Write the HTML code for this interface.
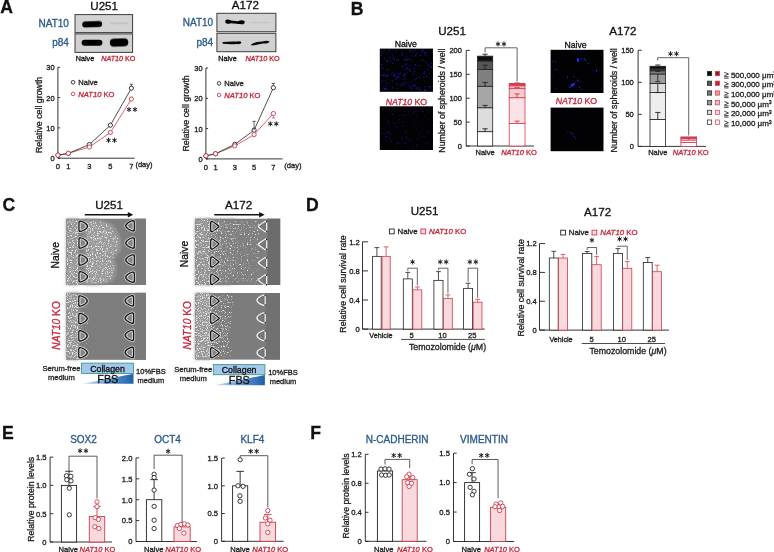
<!DOCTYPE html>
<html><head><meta charset="utf-8"><style>
html,body{margin:0;padding:0;background:#fff;width:774px;height:552px;overflow:hidden}
svg{display:block;will-change:transform;filter:blur(0.3px)}
text{font-family:'Liberation Sans',sans-serif}
</style></head><body>
<svg width="774" height="552" viewBox="0 0 774 552">
<defs>
<filter id="blur1" x="-50%" y="-50%" width="200%" height="200%"><feGaussianBlur stdDeviation="0.9"/></filter>
<filter id="blur06" x="-50%" y="-50%" width="200%" height="200%"><feGaussianBlur stdDeviation="0.6"/></filter>
<filter id="blur05" x="-50%" y="-50%" width="200%" height="200%"><feGaussianBlur stdDeviation="0.5"/></filter>
<filter id="blur15" x="-20%" y="-20%" width="140%" height="140%"><feGaussianBlur stdDeviation="1.5"/></filter>
<filter id="spkA" x="0" y="0" width="100%" height="100%"><feTurbulence type="fractalNoise" baseFrequency="0.85" numOctaves="2" seed="4" result="n"/><feColorMatrix in="n" type="matrix" values="0 0 0 0 1  0 0 0 0 1  0 0 0 0 1  0 0 0 7 -3.4" result="w"/><feComposite in="w" in2="SourceAlpha" operator="in"/></filter>
<filter id="spkB" x="0" y="0" width="100%" height="100%"><feTurbulence type="fractalNoise" baseFrequency="0.7" numOctaves="2" seed="9" result="n"/><feColorMatrix in="n" type="matrix" values="0 0 0 0 1  0 0 0 0 1  0 0 0 0 1  0 0 0 7 -3.5" result="w"/><feComposite in="w" in2="SourceAlpha" operator="in"/></filter>
<filter id="spkC" x="0" y="0" width="100%" height="100%"><feTurbulence type="fractalNoise" baseFrequency="0.8" numOctaves="2" seed="12" result="n"/><feColorMatrix in="n" type="matrix" values="0 0 0 0 1  0 0 0 0 1  0 0 0 0 1  0 0 0 7 -3.9" result="w"/><feComposite in="w" in2="SourceAlpha" operator="in"/></filter>
<filter id="spkD" x="0" y="0" width="100%" height="100%"><feTurbulence type="fractalNoise" baseFrequency="0.75" numOctaves="2" seed="21" result="n"/><feColorMatrix in="n" type="matrix" values="0 0 0 0 1  0 0 0 0 1  0 0 0 0 1  0 0 0 7 -4.0" result="w"/><feComposite in="w" in2="SourceAlpha" operator="in"/></filter>
<filter id="dnU1" x="0" y="0" width="1" height="1" color-interpolation-filters="sRGB"><feTurbulence type="fractalNoise" baseFrequency="0.8" numOctaves="2" seed="4" result="n"/><feComposite in="n" in2="SourceGraphic" operator="arithmetic" k1="0" k2="5" k3="5" k4="-7.500" result="c"/><feColorMatrix in="c" type="matrix" values="0 0 0 0 0.92 0 0 0 0 0.92 0 0 0 0 0.92 0 0 0 1 0"/></filter><filter id="dnU2" x="0" y="0" width="1" height="1" color-interpolation-filters="sRGB"><feTurbulence type="fractalNoise" baseFrequency="0.8" numOctaves="2" seed="7" result="n"/><feComposite in="n" in2="SourceGraphic" operator="arithmetic" k1="0" k2="5" k3="5" k4="-7.500" result="c"/><feColorMatrix in="c" type="matrix" values="0 0 0 0 0.92 0 0 0 0 0.92 0 0 0 0 0.92 0 0 0 1 0"/></filter><filter id="dnA1" x="0" y="0" width="1" height="1" color-interpolation-filters="sRGB"><feTurbulence type="fractalNoise" baseFrequency="0.7" numOctaves="2" seed="11" result="n"/><feComposite in="n" in2="SourceGraphic" operator="arithmetic" k1="0" k2="5" k3="5" k4="-7.500" result="c"/><feColorMatrix in="c" type="matrix" values="0 0 0 0 0.92 0 0 0 0 0.92 0 0 0 0 0.92 0 0 0 1 0"/></filter><filter id="dnA2" x="0" y="0" width="1" height="1" color-interpolation-filters="sRGB"><feTurbulence type="fractalNoise" baseFrequency="0.8" numOctaves="2" seed="15" result="n"/><feComposite in="n" in2="SourceGraphic" operator="arithmetic" k1="0" k2="5" k3="5" k4="-7.500" result="c"/><feColorMatrix in="c" type="matrix" values="0 0 0 0 0.92 0 0 0 0 0.92 0 0 0 0 0.92 0 0 0 1 0"/></filter>
<linearGradient id="gFan" x1="0" y1="0" x2="1" y2="0"><stop offset="0" stop-color="#fff" stop-opacity="1"/><stop offset="0.6" stop-color="#fff" stop-opacity="0.99"/><stop offset="1" stop-color="#fff" stop-opacity="0.93"/></linearGradient>
<linearGradient id="gA1" x1="0" y1="0" x2="1" y2="0"><stop offset="0" stop-color="#fff" stop-opacity="0.97"/><stop offset="0.4" stop-color="#fff" stop-opacity="0.92"/><stop offset="1" stop-color="#fff" stop-opacity="0.88"/></linearGradient>
<linearGradient id="gA2" x1="0" y1="0" x2="1" y2="0"><stop offset="0" stop-color="#fff" stop-opacity="0.99"/><stop offset="0.6" stop-color="#fff" stop-opacity="0.95"/><stop offset="1" stop-color="#fff" stop-opacity="0.88"/></linearGradient>
<filter id="blur3" x="-50%" y="-50%" width="200%" height="200%"><feGaussianBlur stdDeviation="3"/></filter>
<linearGradient id="fbsgrad" x1="0" y1="0" x2="1" y2="0"><stop offset="0" stop-color="#cfe3f5"/><stop offset="0.55" stop-color="#5e95cf"/><stop offset="1" stop-color="#1f5fa8"/></linearGradient>
</defs>
<text x="0.2" y="12.7" font-size="17.6" text-anchor="start" fill="#111" stroke="#111" stroke-width="0.32" font-weight="bold">A</text>
<text x="350.8" y="15.0" font-size="17.6" text-anchor="start" fill="#111" stroke="#111" stroke-width="0.32" font-weight="bold">B</text>
<text x="2.6" y="211.2" font-size="17.6" text-anchor="start" fill="#111" stroke="#111" stroke-width="0.32" font-weight="bold">C</text>
<text x="306.0" y="211.0" font-size="17.6" text-anchor="start" fill="#111" stroke="#111" stroke-width="0.32" font-weight="bold">D</text>
<text x="1.9" y="439.0" font-size="17.6" text-anchor="start" fill="#111" stroke="#111" stroke-width="0.32" font-weight="bold">E</text>
<text x="310.3" y="439.0" font-size="17.6" text-anchor="start" fill="#111" stroke="#111" stroke-width="0.32" font-weight="bold">F</text>
<text x="90.3" y="9.8" font-size="11.6" text-anchor="start" fill="#111" stroke="#111" stroke-width="0.32" font-weight="normal">U251</text>
<rect x="75.00" y="14.60" width="57.60" height="18.00" fill="#d3d3d3" stroke="#3c3c3c" stroke-width="1.0"/>
<rect x="75.00" y="33.90" width="57.60" height="18.50" fill="#d1d1d1" stroke="#3c3c3c" stroke-width="1.0"/>
<text x="68.9" y="26.8" font-size="10" text-anchor="end" fill="#2b5a8c" stroke="#2b5a8c" stroke-width="0.32" font-weight="normal">NAT10</text>
<text x="68.9" y="46.3" font-size="10" text-anchor="end" fill="#2b5a8c" stroke="#2b5a8c" stroke-width="0.32" font-weight="normal">p84</text>
<rect x="82.2" y="21.25" width="19.90" height="5.9" rx="2.95" fill="#050505" opacity="1.0" filter="url(#blur06)" transform="rotate(-2 92.15 24.2)"/>
<rect x="110" y="22.30" width="18.00" height="2.0" rx="1.00" fill="#050505" opacity="0.06" filter="url(#blur06)" transform="rotate(0 119.00 23.3)"/>
<rect x="81.6" y="39.85" width="20.80" height="5.9" rx="2.95" fill="#050505" opacity="1.0" filter="url(#blur06)" transform="rotate(0 92.00 42.8)"/>
<rect x="109.8" y="38.45" width="18.50" height="8.1" rx="4.05" fill="#050505" opacity="1.0" filter="url(#blur06)" transform="rotate(-2 119.05 42.5)"/>
<text x="75.8" y="61.3" font-size="7.2" text-anchor="start" fill="#111" stroke="#111" stroke-width="0.32" font-weight="normal">Naive</text>
<text x="101.2" y="61.3" font-size="7.2" text-anchor="start" fill="#c4283c" stroke="#c4283c" stroke-width="0.32"><tspan font-style="italic">NAT10</tspan> KO</text>
<text x="231.8" y="8.6" font-size="11.6" text-anchor="start" fill="#111" stroke="#111" stroke-width="0.32" font-weight="normal">A172</text>
<rect x="216.90" y="13.30" width="59.00" height="18.40" fill="#d3d3d3" stroke="#3c3c3c" stroke-width="1.0"/>
<rect x="216.90" y="33.30" width="59.00" height="18.40" fill="#d1d1d1" stroke="#3c3c3c" stroke-width="1.0"/>
<text x="213.2" y="26.0" font-size="10" text-anchor="end" fill="#2b5a8c" stroke="#2b5a8c" stroke-width="0.32" font-weight="normal">NAT10</text>
<text x="213.2" y="45.6" font-size="10" text-anchor="end" fill="#2b5a8c" stroke="#2b5a8c" stroke-width="0.32" font-weight="normal">p84</text>
<path d="M225.5,20.0 Q228,19.0 231,20.4 L238,21.3 Q242,19.2 244.8,21.5 Q245,24.5 241.5,24.3 L231,23.2 Q227,24.6 225.3,22.7 Z" fill="#050505" opacity="1.0" filter="url(#blur06)"/>
<rect x="251" y="21.70" width="18.00" height="1.6" rx="0.80" fill="#050505" opacity="0.05" filter="url(#blur06)" transform="rotate(0 260.00 22.5)"/>
<path d="M222.6,42.0 Q230,41.2 237,41.6 Q241,40.8 241.4,42.6 Q241,44.6 237,44.0 Q230,44.6 222.6,43.8 Z" fill="#050505" opacity="0.95" filter="url(#blur06)"/>
<path d="M251.2,44.2 Q256,41.6 262,41.6 Q268,40.0 269.6,41.8 Q269,43.8 263,43.6 Q256,45.4 251.5,45.6 Z" fill="#050505" opacity="0.95" filter="url(#blur06)"/>
<text x="218.3" y="60.8" font-size="7.2" text-anchor="start" fill="#111" stroke="#111" stroke-width="0.32" font-weight="normal">Naive</text>
<text x="245.4" y="60.8" font-size="7.2" text-anchor="start" fill="#c4283c" stroke="#c4283c" stroke-width="0.32"><tspan font-style="italic">NAT10</tspan> KO</text>
<line x1="57.90" y1="67.30" x2="57.90" y2="158.20" stroke="#1e1e1e" stroke-width="0.9"/>
<line x1="57.90" y1="158.20" x2="134.70" y2="158.20" stroke="#1e1e1e" stroke-width="0.9"/>
<line x1="57.90" y1="158.20" x2="60.10" y2="158.20" stroke="#1e1e1e" stroke-width="0.9"/>
<text x="54.699999999999996" y="161.2" font-size="7.5" text-anchor="end" fill="#1e1e1e" stroke="#1e1e1e" stroke-width="0.32" font-weight="normal">0</text>
<line x1="57.90" y1="127.90" x2="60.10" y2="127.90" stroke="#1e1e1e" stroke-width="0.9"/>
<text x="54.699999999999996" y="130.89999999999998" font-size="7.5" text-anchor="end" fill="#1e1e1e" stroke="#1e1e1e" stroke-width="0.32" font-weight="normal">10</text>
<line x1="57.90" y1="97.60" x2="60.10" y2="97.60" stroke="#1e1e1e" stroke-width="0.9"/>
<text x="54.699999999999996" y="100.6" font-size="7.5" text-anchor="end" fill="#1e1e1e" stroke="#1e1e1e" stroke-width="0.32" font-weight="normal">20</text>
<line x1="57.90" y1="67.30" x2="60.10" y2="67.30" stroke="#1e1e1e" stroke-width="0.9"/>
<text x="54.699999999999996" y="70.3" font-size="7.5" text-anchor="end" fill="#1e1e1e" stroke="#1e1e1e" stroke-width="0.32" font-weight="normal">30</text>
<text x="57.9" y="168.79999999999998" font-size="7.5" text-anchor="middle" fill="#1e1e1e" stroke="#1e1e1e" stroke-width="0.32" font-weight="normal">0</text>
<text x="68.4" y="168.79999999999998" font-size="7.5" text-anchor="middle" fill="#1e1e1e" stroke="#1e1e1e" stroke-width="0.32" font-weight="normal">1</text>
<text x="89.4" y="168.79999999999998" font-size="7.5" text-anchor="middle" fill="#1e1e1e" stroke="#1e1e1e" stroke-width="0.32" font-weight="normal">3</text>
<text x="110.4" y="168.79999999999998" font-size="7.5" text-anchor="middle" fill="#1e1e1e" stroke="#1e1e1e" stroke-width="0.32" font-weight="normal">5</text>
<text x="131.4" y="168.79999999999998" font-size="7.5" text-anchor="middle" fill="#1e1e1e" stroke="#1e1e1e" stroke-width="0.32" font-weight="normal">7</text>
<text x="135.4" y="167.0" font-size="7.5" text-anchor="start" fill="#1e1e1e" stroke="#1e1e1e" stroke-width="0.32" font-weight="normal">(day)</text>
<text x="42.3" y="114.9" font-size="8.8" text-anchor="middle" fill="#1e1e1e" stroke="#1e1e1e" stroke-width="0.32" font-weight="normal" transform="rotate(-90 42.3 114.9)">Relative cell growth</text>
<line x1="131.40" y1="88.21" x2="131.40" y2="84.27" stroke="#1e1e1e" stroke-width="0.7"/>
<line x1="129.80" y1="84.27" x2="133.00" y2="84.27" stroke="#1e1e1e" stroke-width="0.7"/>
<line x1="131.40" y1="99.11" x2="131.40" y2="97.30" stroke="#cf3d4e" stroke-width="0.7"/>
<line x1="129.80" y1="97.30" x2="133.00" y2="97.30" stroke="#cf3d4e" stroke-width="0.7"/>
<polyline points="57.90,155.17 68.40,153.35 89.40,146.99 110.40,132.44 131.40,99.11" fill="none" stroke="#cf3d4e" stroke-width="0.8" stroke-linejoin="round"/>
<polyline points="57.90,155.17 68.40,153.35 89.40,144.56 110.40,125.17 131.40,88.21" fill="none" stroke="#222" stroke-width="0.8" stroke-linejoin="round"/>
<circle cx="57.90" cy="155.17" r="2.1" fill="white" stroke="#222" stroke-width="0.9"/>
<circle cx="68.40" cy="153.35" r="2.1" fill="white" stroke="#222" stroke-width="0.9"/>
<circle cx="89.40" cy="144.56" r="2.1" fill="white" stroke="#222" stroke-width="0.9"/>
<circle cx="110.40" cy="125.17" r="2.1" fill="white" stroke="#222" stroke-width="0.9"/>
<circle cx="131.40" cy="88.21" r="2.1" fill="white" stroke="#222" stroke-width="0.9"/>
<circle cx="57.90" cy="155.17" r="2.1" fill="white" stroke="#cf3d4e" stroke-width="0.9"/>
<circle cx="68.40" cy="153.35" r="2.1" fill="white" stroke="#cf3d4e" stroke-width="0.9"/>
<circle cx="89.40" cy="146.99" r="2.1" fill="white" stroke="#cf3d4e" stroke-width="0.9"/>
<circle cx="110.40" cy="132.44" r="2.1" fill="white" stroke="#cf3d4e" stroke-width="0.9"/>
<circle cx="131.40" cy="99.11" r="2.1" fill="white" stroke="#cf3d4e" stroke-width="0.9"/>
<path d="M129.03,107.40 L129.03,111.60 M127.21,108.45 L130.84,110.55 M130.84,108.45 L127.21,110.55 " stroke="#1e1e1e" stroke-width="1.0" stroke-linecap="round" fill="none"/>
<path d="M134.97,107.40 L134.97,111.60 M133.16,108.45 L136.79,110.55 M136.79,108.45 L133.16,110.55 " stroke="#1e1e1e" stroke-width="1.0" stroke-linecap="round" fill="none"/>
<path d="M108.53,138.20 L108.53,142.40 M106.71,139.25 L110.34,141.35 M110.34,139.25 L106.71,141.35 " stroke="#1e1e1e" stroke-width="1.0" stroke-linecap="round" fill="none"/>
<path d="M114.47,138.20 L114.47,142.40 M112.66,139.25 L116.29,141.35 M116.29,139.25 L112.66,141.35 " stroke="#1e1e1e" stroke-width="1.0" stroke-linecap="round" fill="none"/>
<circle cx="73.10" cy="82.30" r="1.8" fill="white" stroke="#222" stroke-width="0.9"/>
<text x="78.3" y="85.2" font-size="7.6" text-anchor="start" fill="#1e1e1e" stroke="#1e1e1e" stroke-width="0.32" font-weight="normal">Naive</text>
<circle cx="73.10" cy="93.90" r="1.8" fill="white" stroke="#cf3d4e" stroke-width="0.9"/>
<text x="78.3" y="96.8" font-size="7.6" text-anchor="start" fill="#c4283c" stroke="#c4283c" stroke-width="0.32"><tspan font-style="italic">NAT10</tspan> KO</text>
<line x1="205.90" y1="68.00" x2="205.90" y2="158.90" stroke="#1e1e1e" stroke-width="0.9"/>
<line x1="205.90" y1="158.90" x2="282.60" y2="158.90" stroke="#1e1e1e" stroke-width="0.9"/>
<line x1="205.90" y1="158.90" x2="208.10" y2="158.90" stroke="#1e1e1e" stroke-width="0.9"/>
<text x="202.70000000000002" y="161.9" font-size="7.5" text-anchor="end" fill="#1e1e1e" stroke="#1e1e1e" stroke-width="0.32" font-weight="normal">0</text>
<line x1="205.90" y1="128.60" x2="208.10" y2="128.60" stroke="#1e1e1e" stroke-width="0.9"/>
<text x="202.70000000000002" y="131.60000000000002" font-size="7.5" text-anchor="end" fill="#1e1e1e" stroke="#1e1e1e" stroke-width="0.32" font-weight="normal">10</text>
<line x1="205.90" y1="98.30" x2="208.10" y2="98.30" stroke="#1e1e1e" stroke-width="0.9"/>
<text x="202.70000000000002" y="101.30000000000001" font-size="7.5" text-anchor="end" fill="#1e1e1e" stroke="#1e1e1e" stroke-width="0.32" font-weight="normal">20</text>
<line x1="205.90" y1="68.00" x2="208.10" y2="68.00" stroke="#1e1e1e" stroke-width="0.9"/>
<text x="202.70000000000002" y="71.00000000000001" font-size="7.5" text-anchor="end" fill="#1e1e1e" stroke="#1e1e1e" stroke-width="0.32" font-weight="normal">30</text>
<text x="205.9" y="169.5" font-size="7.5" text-anchor="middle" fill="#1e1e1e" stroke="#1e1e1e" stroke-width="0.32" font-weight="normal">0</text>
<text x="215.54000000000002" y="169.5" font-size="7.5" text-anchor="middle" fill="#1e1e1e" stroke="#1e1e1e" stroke-width="0.32" font-weight="normal">1</text>
<text x="234.82" y="169.5" font-size="7.5" text-anchor="middle" fill="#1e1e1e" stroke="#1e1e1e" stroke-width="0.32" font-weight="normal">3</text>
<text x="254.10000000000002" y="169.5" font-size="7.5" text-anchor="middle" fill="#1e1e1e" stroke="#1e1e1e" stroke-width="0.32" font-weight="normal">5</text>
<text x="273.38" y="169.5" font-size="7.5" text-anchor="middle" fill="#1e1e1e" stroke="#1e1e1e" stroke-width="0.32" font-weight="normal">7</text>
<text x="284.3" y="167.70000000000002" font-size="7.5" text-anchor="start" fill="#1e1e1e" stroke="#1e1e1e" stroke-width="0.32" font-weight="normal">(day)</text>
<text x="188.8" y="113.4" font-size="8.8" text-anchor="middle" fill="#1e1e1e" stroke="#1e1e1e" stroke-width="0.32" font-weight="normal" transform="rotate(-90 188.8 113.4)">Relative cell growth</text>
<line x1="254.10" y1="130.12" x2="254.10" y2="129.21" stroke="#1e1e1e" stroke-width="0.7"/>
<line x1="252.50" y1="129.21" x2="255.70" y2="129.21" stroke="#1e1e1e" stroke-width="0.7"/>
<line x1="273.38" y1="87.70" x2="273.38" y2="83.45" stroke="#1e1e1e" stroke-width="0.7"/>
<line x1="271.78" y1="83.45" x2="274.98" y2="83.45" stroke="#1e1e1e" stroke-width="0.7"/>
<line x1="273.38" y1="113.45" x2="273.38" y2="118.00" stroke="#cf3d4e" stroke-width="0.7"/>
<line x1="271.78" y1="118.00" x2="274.98" y2="118.00" stroke="#cf3d4e" stroke-width="0.7"/>
<polyline points="205.90,155.87 215.54,153.75 234.82,145.87 254.10,134.66 273.38,113.45" fill="none" stroke="#cf3d4e" stroke-width="0.8" stroke-linejoin="round"/>
<polyline points="205.90,155.87 215.54,153.75 234.82,144.36 254.10,130.12 273.38,87.70" fill="none" stroke="#222" stroke-width="0.8" stroke-linejoin="round"/>
<circle cx="205.90" cy="155.87" r="2.1" fill="white" stroke="#222" stroke-width="0.9"/>
<circle cx="215.54" cy="153.75" r="2.1" fill="white" stroke="#222" stroke-width="0.9"/>
<circle cx="234.82" cy="144.36" r="2.1" fill="white" stroke="#222" stroke-width="0.9"/>
<circle cx="254.10" cy="130.12" r="2.1" fill="white" stroke="#222" stroke-width="0.9"/>
<circle cx="273.38" cy="87.70" r="2.1" fill="white" stroke="#222" stroke-width="0.9"/>
<circle cx="205.90" cy="155.87" r="2.1" fill="white" stroke="#cf3d4e" stroke-width="0.9"/>
<circle cx="215.54" cy="153.75" r="2.1" fill="white" stroke="#cf3d4e" stroke-width="0.9"/>
<circle cx="234.82" cy="145.87" r="2.1" fill="white" stroke="#cf3d4e" stroke-width="0.9"/>
<circle cx="254.10" cy="134.66" r="2.1" fill="white" stroke="#cf3d4e" stroke-width="0.9"/>
<circle cx="273.38" cy="113.45" r="2.1" fill="white" stroke="#cf3d4e" stroke-width="0.9"/>
<path d="M270.32,121.70 L270.32,125.90 M268.51,122.75 L272.14,124.85 M272.14,122.75 L268.51,124.85 " stroke="#1e1e1e" stroke-width="1.0" stroke-linecap="round" fill="none"/>
<path d="M276.28,121.70 L276.28,125.90 M274.46,122.75 L278.09,124.85 M278.09,122.75 L274.46,124.85 " stroke="#1e1e1e" stroke-width="1.0" stroke-linecap="round" fill="none"/>
<circle cx="219.10" cy="83.40" r="1.8" fill="white" stroke="#222" stroke-width="0.9"/>
<text x="224.29999999999998" y="86.30000000000001" font-size="7.6" text-anchor="start" fill="#1e1e1e" stroke="#1e1e1e" stroke-width="0.32" font-weight="normal">Naive</text>
<circle cx="219.10" cy="95.00" r="1.8" fill="white" stroke="#cf3d4e" stroke-width="0.9"/>
<text x="224.29999999999998" y="97.9" font-size="7.6" text-anchor="start" fill="#c4283c" stroke="#c4283c" stroke-width="0.32"><tspan font-style="italic">NAT10</tspan> KO</text>
<line x1="254.10" y1="130.12" x2="254.10" y2="121.33" stroke="#1e1e1e" stroke-width="0.7"/>
<line x1="252.50" y1="121.33" x2="255.70" y2="121.33" stroke="#1e1e1e" stroke-width="0.7"/>
<text x="438.2" y="34.9" font-size="11.6" text-anchor="start" fill="#111" stroke="#111" stroke-width="0.32" font-weight="normal">U251</text>
<text x="405.8" y="47.2" font-size="8.7" text-anchor="middle" fill="#111" stroke="#111" stroke-width="0.32" font-weight="normal">Naive</text>
<text x="406.4" y="104.8" font-size="8.7" text-anchor="middle" fill="#c4283c" stroke="#c4283c" stroke-width="0.32"><tspan font-style="italic">NAT10</tspan> KO</text>
<rect x="379.80" y="48.60" width="53.20" height="43.20" fill="#020204" stroke="none" stroke-width="0.8"/>
<circle cx="393.0" cy="72.0" r="0.5" fill="#2424e8"/>
<circle cx="427.7" cy="69.1" r="0.6" fill="#2424e8"/>
<circle cx="384.2" cy="50.1" r="0.5" fill="#2424e8"/>
<circle cx="394.1" cy="59.3" r="0.6" fill="#2424e8"/>
<circle cx="404.9" cy="84.1" r="0.5" fill="#2424e8"/>
<circle cx="401.1" cy="85.1" r="0.4" fill="#2424e8"/>
<circle cx="413.3" cy="85.4" r="0.6" fill="#2424e8"/>
<circle cx="400.8" cy="50.2" r="0.4" fill="#2424e8"/>
<circle cx="389.0" cy="89.0" r="0.4" fill="#2424e8"/>
<circle cx="396.2" cy="50.9" r="0.5" fill="#2424e8"/>
<circle cx="405.0" cy="79.2" r="0.5" fill="#2424e8"/>
<circle cx="417.4" cy="87.5" r="0.5" fill="#2424e8"/>
<circle cx="418.1" cy="73.4" r="0.4" fill="#2424e8"/>
<circle cx="425.8" cy="53.6" r="0.4" fill="#2424e8"/>
<circle cx="406.1" cy="60.2" r="0.6" fill="#2424e8"/>
<circle cx="403.1" cy="75.4" r="0.5" fill="#2424e8"/>
<circle cx="402.4" cy="83.9" r="0.6" fill="#2424e8"/>
<circle cx="398.8" cy="73.7" r="0.6" fill="#2424e8"/>
<circle cx="392.7" cy="63.5" r="0.4" fill="#2424e8"/>
<circle cx="424.6" cy="90.4" r="0.6" fill="#2424e8"/>
<circle cx="416.4" cy="78.4" r="0.5" fill="#2424e8"/>
<circle cx="430.2" cy="86.9" r="0.6" fill="#2424e8"/>
<circle cx="386.1" cy="76.6" r="0.6" fill="#2424e8"/>
<circle cx="423.4" cy="73.2" r="0.5" fill="#2424e8"/>
<circle cx="387.2" cy="69.5" r="0.6" fill="#2424e8"/>
<circle cx="431.5" cy="53.2" r="0.4" fill="#2424e8"/>
<circle cx="401.8" cy="55.8" r="0.5" fill="#2424e8"/>
<circle cx="402.7" cy="66.7" r="0.4" fill="#2424e8"/>
<circle cx="383.1" cy="74.9" r="0.4" fill="#2424e8"/>
<circle cx="400.1" cy="73.8" r="0.6" fill="#2424e8"/>
<circle cx="425.9" cy="90.0" r="0.6" fill="#2424e8"/>
<circle cx="392.9" cy="51.1" r="0.4" fill="#2424e8"/>
<circle cx="384.7" cy="74.3" r="0.4" fill="#2424e8"/>
<circle cx="429.4" cy="89.6" r="0.5" fill="#2424e8"/>
<circle cx="412.1" cy="56.0" r="0.4" fill="#2424e8"/>
<circle cx="431.0" cy="63.6" r="0.5" fill="#2424e8"/>
<circle cx="429.9" cy="86.5" r="0.5" fill="#2424e8"/>
<circle cx="400.1" cy="85.4" r="0.5" fill="#2424e8"/>
<circle cx="413.8" cy="74.1" r="0.6" fill="#2424e8"/>
<circle cx="386.1" cy="89.7" r="0.6" fill="#2424e8"/>
<circle cx="394.7" cy="75.7" r="0.6" fill="#2424e8"/>
<circle cx="393.0" cy="62.0" r="0.5" fill="#2424e8"/>
<circle cx="407.5" cy="72.2" r="0.4" fill="#2424e8"/>
<circle cx="421.2" cy="90.3" r="0.5" fill="#2424e8"/>
<circle cx="381.8" cy="75.0" r="0.6" fill="#2424e8"/>
<circle cx="387.6" cy="75.7" r="0.5" fill="#2424e8"/>
<circle cx="404.7" cy="77.6" r="0.5" fill="#2424e8"/>
<circle cx="412.0" cy="61.1" r="0.5" fill="#2424e8"/>
<circle cx="381.9" cy="52.1" r="0.6" fill="#2424e8"/>
<circle cx="381.9" cy="64.8" r="0.6" fill="#2424e8"/>
<circle cx="404.2" cy="74.0" r="0.5" fill="#2424e8"/>
<circle cx="389.9" cy="57.2" r="0.5" fill="#2424e8"/>
<circle cx="424.0" cy="60.5" r="0.5" fill="#2424e8"/>
<circle cx="386.2" cy="83.1" r="0.6" fill="#2424e8"/>
<circle cx="415.8" cy="55.0" r="0.6" fill="#2424e8"/>
<circle cx="392.2" cy="82.7" r="0.4" fill="#2424e8"/>
<circle cx="397.6" cy="77.5" r="0.6" fill="#2424e8"/>
<circle cx="416.5" cy="53.8" r="0.5" fill="#2424e8"/>
<circle cx="429.4" cy="77.4" r="0.4" fill="#2424e8"/>
<circle cx="403.2" cy="84.8" r="0.4" fill="#2424e8"/>
<circle cx="384.9" cy="80.2" r="0.4" fill="#2424e8"/>
<circle cx="426.1" cy="68.2" r="0.4" fill="#2424e8"/>
<circle cx="421.1" cy="51.0" r="0.4" fill="#2424e8"/>
<circle cx="396.9" cy="84.1" r="0.6" fill="#2424e8"/>
<circle cx="390.2" cy="61.1" r="0.6" fill="#2424e8"/>
<circle cx="385.2" cy="75.1" r="0.6" fill="#2424e8"/>
<circle cx="387.4" cy="61.6" r="0.5" fill="#2424e8"/>
<circle cx="404.6" cy="75.7" r="0.5" fill="#2424e8"/>
<circle cx="402.3" cy="66.5" r="0.5" fill="#2424e8"/>
<circle cx="388.8" cy="49.8" r="0.6" fill="#2424e8"/>
<circle cx="431.3" cy="67.5" r="0.6" fill="#2424e8"/>
<circle cx="392.2" cy="80.3" r="0.6" fill="#2424e8"/>
<circle cx="419.1" cy="89.3" r="0.6" fill="#2424e8"/>
<circle cx="398.3" cy="59.0" r="0.4" fill="#2424e8"/>
<circle cx="424.7" cy="89.6" r="0.4" fill="#2424e8"/>
<circle cx="422.3" cy="51.5" r="0.6" fill="#2424e8"/>
<circle cx="407.0" cy="57.8" r="0.5" fill="#2424e8"/>
<circle cx="410.3" cy="50.1" r="0.6" fill="#2424e8"/>
<circle cx="387.0" cy="70.3" r="0.4" fill="#2424e8"/>
<circle cx="414.7" cy="71.2" r="0.5" fill="#2424e8"/>
<circle cx="383.5" cy="87.2" r="0.4" fill="#2424e8"/>
<circle cx="398.3" cy="60.0" r="0.6" fill="#2424e8"/>
<circle cx="405.2" cy="81.8" r="0.5" fill="#2424e8"/>
<circle cx="392.1" cy="54.6" r="0.4" fill="#2424e8"/>
<circle cx="389.6" cy="82.2" r="0.4" fill="#2424e8"/>
<circle cx="423.0" cy="49.9" r="0.6" fill="#2424e8"/>
<circle cx="410.0" cy="66.1" r="0.5" fill="#2424e8"/>
<circle cx="393.5" cy="75.1" r="0.6" fill="#2424e8"/>
<circle cx="402.5" cy="69.1" r="0.4" fill="#2424e8"/>
<circle cx="424.7" cy="81.5" r="0.4" fill="#2424e8"/>
<circle cx="387.2" cy="52.4" r="0.4" fill="#2424e8"/>
<circle cx="424.5" cy="53.1" r="0.6" fill="#2424e8"/>
<circle cx="405.9" cy="56.1" r="0.4" fill="#2424e8"/>
<circle cx="398.8" cy="76.3" r="0.6" fill="#2424e8"/>
<circle cx="396.4" cy="60.5" r="0.5" fill="#2424e8"/>
<circle cx="402.7" cy="54.9" r="0.4" fill="#2424e8"/>
<circle cx="417.5" cy="65.3" r="0.4" fill="#2424e8"/>
<circle cx="409.8" cy="51.4" r="0.5" fill="#2424e8"/>
<circle cx="411.7" cy="81.8" r="0.5" fill="#2424e8"/>
<circle cx="413.4" cy="51.4" r="0.5" fill="#2424e8"/>
<circle cx="383.5" cy="75.5" r="0.6" fill="#2424e8"/>
<circle cx="396.9" cy="88.8" r="0.5" fill="#2424e8"/>
<circle cx="404.4" cy="59.7" r="0.6" fill="#2424e8"/>
<circle cx="394.6" cy="73.9" r="0.5" fill="#2424e8"/>
<circle cx="392.3" cy="55.0" r="0.4" fill="#2424e8"/>
<circle cx="428.7" cy="65.0" r="0.6" fill="#2424e8"/>
<circle cx="421.3" cy="60.4" r="0.5" fill="#2424e8"/>
<circle cx="416.2" cy="88.3" r="0.6" fill="#2424e8"/>
<circle cx="414.7" cy="86.2" r="0.5" fill="#2424e8"/>
<circle cx="415.0" cy="79.8" r="0.6" fill="#2424e8"/>
<circle cx="408.0" cy="83.0" r="0.6" fill="#2424e8"/>
<circle cx="381.1" cy="55.5" r="0.5" fill="#2424e8"/>
<circle cx="383.1" cy="53.4" r="0.4" fill="#2424e8"/>
<circle cx="414.6" cy="65.1" r="0.4" fill="#2424e8"/>
<circle cx="398.3" cy="84.7" r="0.4" fill="#2424e8"/>
<circle cx="424.0" cy="77.3" r="0.6" fill="#2424e8"/>
<circle cx="429.6" cy="73.5" r="0.4" fill="#2424e8"/>
<circle cx="382.7" cy="81.2" r="0.6" fill="#2424e8"/>
<circle cx="407.9" cy="59.4" r="0.6" fill="#2424e8"/>
<circle cx="419.1" cy="88.1" r="0.4" fill="#2424e8"/>
<circle cx="409.0" cy="85.4" r="0.4" fill="#2424e8"/>
<circle cx="423.2" cy="59.6" r="0.4" fill="#2424e8"/>
<circle cx="413.9" cy="68.3" r="0.6" fill="#2424e8"/>
<circle cx="419.4" cy="65.8" r="0.5" fill="#2424e8"/>
<circle cx="411.5" cy="88.3" r="0.6" fill="#2424e8"/>
<circle cx="402.2" cy="53.0" r="0.6" fill="#2424e8"/>
<circle cx="392.8" cy="87.9" r="0.6" fill="#2424e8"/>
<circle cx="430.3" cy="66.7" r="0.6" fill="#2424e8"/>
<circle cx="419.5" cy="77.4" r="0.6" fill="#2424e8"/>
<circle cx="415.9" cy="56.0" r="0.5" fill="#2424e8"/>
<circle cx="426.7" cy="55.8" r="0.4" fill="#2424e8"/>
<circle cx="406.3" cy="69.5" r="0.6" fill="#2424e8"/>
<circle cx="407.3" cy="67.9" r="0.6" fill="#2424e8"/>
<circle cx="424.7" cy="55.2" r="0.4" fill="#2424e8"/>
<circle cx="388.3" cy="70.8" r="0.4" fill="#2424e8"/>
<circle cx="424.4" cy="71.8" r="0.5" fill="#2424e8"/>
<circle cx="415.2" cy="84.8" r="0.6" fill="#2424e8"/>
<circle cx="424.5" cy="73.7" r="0.5" fill="#2424e8"/>
<circle cx="426.3" cy="62.3" r="0.5" fill="#2424e8"/>
<circle cx="405.3" cy="65.4" r="0.4" fill="#2424e8"/>
<circle cx="410.0" cy="59.4" r="0.5" fill="#2424e8"/>
<circle cx="420.4" cy="55.5" r="0.6" fill="#2424e8"/>
<circle cx="405.4" cy="74.3" r="0.5" fill="#2424e8"/>
<circle cx="410.5" cy="86.8" r="0.6" fill="#2424e8"/>
<circle cx="409.3" cy="69.4" r="0.6" fill="#2424e8"/>
<circle cx="384.5" cy="88.6" r="0.6" fill="#2424e8"/>
<circle cx="426.0" cy="51.5" r="0.4" fill="#2424e8"/>
<circle cx="426.4" cy="76.3" r="0.6" fill="#2424e8"/>
<circle cx="384.3" cy="58.6" r="0.5" fill="#2424e8"/>
<circle cx="393.2" cy="57.4" r="0.5" fill="#2424e8"/>
<circle cx="387.8" cy="75.2" r="0.6" fill="#2424e8"/>
<circle cx="424.8" cy="86.7" r="0.5" fill="#2424e8"/>
<circle cx="389.5" cy="51.5" r="0.4" fill="#2424e8"/>
<circle cx="402.5" cy="79.6" r="0.4" fill="#2424e8"/>
<circle cx="386.8" cy="60.5" r="0.5" fill="#2424e8"/>
<circle cx="382.6" cy="68.2" r="0.6" fill="#2424e8"/>
<circle cx="415.4" cy="49.9" r="0.5" fill="#2424e8"/>
<circle cx="397.8" cy="65.2" r="0.4" fill="#2424e8"/>
<circle cx="391.6" cy="73.7" r="0.5" fill="#2424e8"/>
<circle cx="400.8" cy="72.0" r="0.4" fill="#2424e8"/>
<circle cx="426.0" cy="52.7" r="0.5" fill="#2424e8"/>
<circle cx="386.6" cy="86.2" r="0.5" fill="#2424e8"/>
<circle cx="385.8" cy="88.4" r="0.5" fill="#2424e8"/>
<circle cx="415.5" cy="64.8" r="0.5" fill="#2424e8"/>
<circle cx="395.9" cy="77.4" r="0.6" fill="#2424e8"/>
<circle cx="429.1" cy="83.3" r="0.4" fill="#2424e8"/>
<circle cx="419.4" cy="89.2" r="0.6" fill="#2424e8"/>
<circle cx="409.8" cy="71.3" r="0.6" fill="#2424e8"/>
<circle cx="406.1" cy="64.1" r="0.6" fill="#2424e8"/>
<circle cx="395.9" cy="79.6" r="0.6" fill="#2424e8"/>
<rect x="379.80" y="106.30" width="53.20" height="43.70" fill="#020204" stroke="none" stroke-width="0.8"/>
<circle cx="390.1" cy="134.2" r="0.55" fill="#1c1cb0"/>
<circle cx="388.5" cy="122.8" r="0.55" fill="#1c1cb0"/>
<circle cx="404.1" cy="111.8" r="0.55" fill="#1c1cb0"/>
<circle cx="388.0" cy="121.1" r="0.55" fill="#1c1cb0"/>
<circle cx="414.1" cy="124.8" r="0.45" fill="#1c1cb0"/>
<circle cx="414.0" cy="126.4" r="0.45" fill="#1c1cb0"/>
<circle cx="420.8" cy="136.7" r="0.35" fill="#1c1cb0"/>
<circle cx="417.5" cy="138.8" r="0.55" fill="#1c1cb0"/>
<circle cx="410.3" cy="123.6" r="0.35" fill="#1c1cb0"/>
<circle cx="394.4" cy="123.3" r="0.35" fill="#1c1cb0"/>
<circle cx="383.0" cy="128.3" r="0.35" fill="#1c1cb0"/>
<circle cx="416.4" cy="128.8" r="0.45" fill="#1c1cb0"/>
<circle cx="429.2" cy="126.0" r="0.35" fill="#1c1cb0"/>
<circle cx="398.9" cy="142.6" r="0.35" fill="#1c1cb0"/>
<circle cx="388.6" cy="131.9" r="0.55" fill="#1c1cb0"/>
<circle cx="386.6" cy="139.8" r="0.55" fill="#1c1cb0"/>
<circle cx="386.5" cy="136.4" r="0.55" fill="#1c1cb0"/>
<circle cx="402.1" cy="138.3" r="0.55" fill="#1c1cb0"/>
<circle cx="387.4" cy="132.6" r="0.45" fill="#1c1cb0"/>
<circle cx="421.7" cy="130.0" r="0.35" fill="#1c1cb0"/>
<circle cx="409.9" cy="115.7" r="0.45" fill="#1c1cb0"/>
<circle cx="399.7" cy="119.5" r="0.45" fill="#1c1cb0"/>
<circle cx="426.4" cy="146.9" r="0.45" fill="#1c1cb0"/>
<circle cx="397.0" cy="145.1" r="0.45" fill="#1c1cb0"/>
<circle cx="413.2" cy="148.0" r="0.55" fill="#1c1cb0"/>
<circle cx="417.0" cy="144.7" r="0.55" fill="#1c1cb0"/>
<circle cx="405.6" cy="132.4" r="0.55" fill="#1c1cb0"/>
<circle cx="413.3" cy="111.8" r="0.55" fill="#1c1cb0"/>
<circle cx="392.8" cy="114.5" r="0.55" fill="#1c1cb0"/>
<circle cx="404.4" cy="115.4" r="0.55" fill="#1c1cb0"/>
<circle cx="391.6" cy="141.2" r="0.55" fill="#1c1cb0"/>
<circle cx="429.3" cy="112.0" r="0.45" fill="#1c1cb0"/>
<circle cx="429.9" cy="144.5" r="0.35" fill="#1c1cb0"/>
<circle cx="404.7" cy="111.0" r="0.35" fill="#1c1cb0"/>
<circle cx="382.1" cy="133.1" r="0.55" fill="#1c1cb0"/>
<circle cx="384.8" cy="129.8" r="0.45" fill="#1c1cb0"/>
<circle cx="397.3" cy="143.6" r="0.55" fill="#1c1cb0"/>
<circle cx="416.3" cy="110.7" r="0.55" fill="#1c1cb0"/>
<circle cx="420.5" cy="108.7" r="0.35" fill="#1c1cb0"/>
<circle cx="418.7" cy="121.6" r="0.35" fill="#1c1cb0"/>
<circle cx="428.5" cy="143.2" r="0.45" fill="#1c1cb0"/>
<circle cx="416.6" cy="116.5" r="0.45" fill="#1c1cb0"/>
<circle cx="386.4" cy="109.1" r="0.35" fill="#1c1cb0"/>
<circle cx="424.1" cy="136.7" r="0.45" fill="#1c1cb0"/>
<circle cx="406.3" cy="136.5" r="0.55" fill="#1c1cb0"/>
<circle cx="424.4" cy="116.0" r="0.45" fill="#1c1cb0"/>
<circle cx="396.4" cy="126.7" r="0.55" fill="#1c1cb0"/>
<circle cx="401.4" cy="114.8" r="0.35" fill="#1c1cb0"/>
<circle cx="417.6" cy="122.6" r="0.45" fill="#1c1cb0"/>
<circle cx="403.7" cy="122.4" r="0.45" fill="#1c1cb0"/>
<circle cx="392.3" cy="107.4" r="0.35" fill="#1c1cb0"/>
<circle cx="394.0" cy="122.7" r="0.45" fill="#1c1cb0"/>
<circle cx="408.1" cy="113.9" r="0.35" fill="#1c1cb0"/>
<circle cx="389.5" cy="124.1" r="0.35" fill="#1c1cb0"/>
<circle cx="413.4" cy="113.1" r="0.55" fill="#1c1cb0"/>
<circle cx="389.4" cy="127.7" r="0.35" fill="#1c1cb0"/>
<circle cx="423.9" cy="124.1" r="0.45" fill="#1c1cb0"/>
<circle cx="401.7" cy="136.6" r="0.35" fill="#1c1cb0"/>
<circle cx="393.0" cy="108.9" r="0.45" fill="#1c1cb0"/>
<circle cx="382.2" cy="147.6" r="0.35" fill="#1c1cb0"/>
<circle cx="393.2" cy="123.5" r="0.35" fill="#1c1cb0"/>
<circle cx="389.2" cy="133.3" r="0.45" fill="#1c1cb0"/>
<circle cx="427.5" cy="132.1" r="0.55" fill="#1c1cb0"/>
<circle cx="395.7" cy="148.2" r="0.45" fill="#1c1cb0"/>
<circle cx="421.2" cy="147.4" r="0.45" fill="#1c1cb0"/>
<circle cx="393.6" cy="118.4" r="0.45" fill="#1c1cb0"/>
<circle cx="413.0" cy="121.7" r="0.35" fill="#1c1cb0"/>
<circle cx="383.7" cy="125.5" r="0.35" fill="#1c1cb0"/>
<circle cx="411.1" cy="107.5" r="0.35" fill="#1c1cb0"/>
<circle cx="415.7" cy="108.1" r="0.55" fill="#1c1cb0"/>
<circle cx="382.7" cy="109.5" r="0.55" fill="#1c1cb0"/>
<circle cx="406.9" cy="121.1" r="0.45" fill="#1c1cb0"/>
<circle cx="398.2" cy="127.3" r="0.45" fill="#1c1cb0"/>
<circle cx="428.9" cy="108.7" r="0.45" fill="#1c1cb0"/>
<circle cx="419.3" cy="133.6" r="0.45" fill="#1c1cb0"/>
<circle cx="385.3" cy="119.5" r="0.45" fill="#1c1cb0"/>
<circle cx="386.7" cy="123.6" r="0.45" fill="#1c1cb0"/>
<circle cx="408.3" cy="139.8" r="0.45" fill="#1c1cb0"/>
<circle cx="389.7" cy="138.1" r="0.55" fill="#1c1cb0"/>
<circle cx="400.6" cy="146.4" r="0.45" fill="#1c1cb0"/>
<circle cx="428.1" cy="122.4" r="0.45" fill="#1c1cb0"/>
<circle cx="403.2" cy="125.8" r="0.55" fill="#1c1cb0"/>
<circle cx="405.4" cy="118.5" r="0.35" fill="#1c1cb0"/>
<circle cx="406.8" cy="138.7" r="0.55" fill="#1c1cb0"/>
<circle cx="416.5" cy="146.9" r="0.35" fill="#1c1cb0"/>
<circle cx="388.7" cy="136.9" r="0.35" fill="#1c1cb0"/>
<circle cx="422.9" cy="111.1" r="0.55" fill="#1c1cb0"/>
<circle cx="415.5" cy="111.3" r="0.35" fill="#1c1cb0"/>
<circle cx="411.6" cy="140.7" r="0.35" fill="#1c1cb0"/>
<circle cx="425.8" cy="143.7" r="0.45" fill="#1c1cb0"/>
<circle cx="404.7" cy="143.5" r="0.55" fill="#1c1cb0"/>
<circle cx="397.9" cy="122.7" r="0.35" fill="#1c1cb0"/>
<circle cx="390.8" cy="140.1" r="0.35" fill="#1c1cb0"/>
<circle cx="398.1" cy="120.3" r="0.45" fill="#1c1cb0"/>
<circle cx="384.9" cy="134.4" r="0.35" fill="#1c1cb0"/>
<line x1="466.20" y1="50.40" x2="466.20" y2="146.00" stroke="#1e1e1e" stroke-width="0.9"/>
<line x1="466.20" y1="146.00" x2="534.00" y2="146.00" stroke="#1e1e1e" stroke-width="0.9"/>
<line x1="466.20" y1="146.00" x2="469.80" y2="146.00" stroke="#1e1e1e" stroke-width="0.9"/>
<text x="461.9" y="148.8" font-size="7.5" text-anchor="end" fill="#1e1e1e" stroke="#1e1e1e" stroke-width="0.32" font-weight="normal">0</text>
<line x1="466.20" y1="122.10" x2="469.80" y2="122.10" stroke="#1e1e1e" stroke-width="0.9"/>
<text x="461.9" y="124.89999999999999" font-size="7.5" text-anchor="end" fill="#1e1e1e" stroke="#1e1e1e" stroke-width="0.32" font-weight="normal">50</text>
<line x1="466.20" y1="98.20" x2="469.80" y2="98.20" stroke="#1e1e1e" stroke-width="0.9"/>
<text x="461.9" y="101.0" font-size="7.5" text-anchor="end" fill="#1e1e1e" stroke="#1e1e1e" stroke-width="0.32" font-weight="normal">100</text>
<line x1="466.20" y1="74.30" x2="469.80" y2="74.30" stroke="#1e1e1e" stroke-width="0.9"/>
<text x="461.9" y="77.1" font-size="7.5" text-anchor="end" fill="#1e1e1e" stroke="#1e1e1e" stroke-width="0.32" font-weight="normal">150</text>
<line x1="466.20" y1="50.40" x2="469.80" y2="50.40" stroke="#1e1e1e" stroke-width="0.9"/>
<text x="461.9" y="53.2" font-size="7.5" text-anchor="end" fill="#1e1e1e" stroke="#1e1e1e" stroke-width="0.32" font-weight="normal">200</text>
<rect x="477.50" y="131.66" width="15.20" height="14.34" fill="#ffffff" stroke="#222" stroke-width="0.8"/>
<rect x="477.50" y="107.76" width="15.20" height="23.90" fill="#dcdcdc" stroke="#222" stroke-width="0.8"/>
<rect x="477.50" y="86.25" width="15.20" height="21.51" fill="#a6a6a6" stroke="#222" stroke-width="0.8"/>
<rect x="477.50" y="69.52" width="15.20" height="16.73" fill="#7f7f7f" stroke="#222" stroke-width="0.8"/>
<rect x="477.50" y="60.92" width="15.20" height="8.60" fill="#555555" stroke="#222" stroke-width="0.8"/>
<rect x="477.50" y="56.14" width="15.20" height="4.78" fill="#0d0d0d" stroke="#222" stroke-width="0.8"/>
<line x1="485.10" y1="131.66" x2="485.10" y2="128.79" stroke="#222" stroke-width="0.9"/>
<line x1="482.50" y1="128.79" x2="487.70" y2="128.79" stroke="#222" stroke-width="0.9"/>
<line x1="485.10" y1="107.76" x2="485.10" y2="105.37" stroke="#222" stroke-width="0.9"/>
<line x1="482.50" y1="105.37" x2="487.70" y2="105.37" stroke="#222" stroke-width="0.9"/>
<line x1="485.10" y1="86.25" x2="485.10" y2="82.43" stroke="#222" stroke-width="0.9"/>
<line x1="482.50" y1="82.43" x2="487.70" y2="82.43" stroke="#222" stroke-width="0.9"/>
<line x1="485.10" y1="69.52" x2="485.10" y2="65.22" stroke="#222" stroke-width="0.9"/>
<line x1="482.50" y1="65.22" x2="487.70" y2="65.22" stroke="#222" stroke-width="0.9"/>
<line x1="485.10" y1="56.14" x2="485.10" y2="54.22" stroke="#222" stroke-width="0.9"/>
<line x1="482.50" y1="54.22" x2="487.70" y2="54.22" stroke="#222" stroke-width="0.9"/>
<rect x="509.20" y="123.53" width="15.80" height="22.47" fill="#ffffff" stroke="#cf3d4e" stroke-width="0.8"/>
<rect x="509.20" y="97.72" width="15.80" height="25.81" fill="#fbe2e6" stroke="#cf3d4e" stroke-width="0.8"/>
<rect x="509.20" y="88.64" width="15.80" height="9.08" fill="#f6ccd3" stroke="#cf3d4e" stroke-width="0.8"/>
<rect x="509.20" y="85.77" width="15.80" height="2.87" fill="#f3b8c1" stroke="#cf3d4e" stroke-width="0.8"/>
<rect x="509.20" y="84.34" width="15.80" height="1.43" fill="#e06070" stroke="#cf3d4e" stroke-width="0.8"/>
<rect x="509.20" y="83.38" width="15.80" height="0.96" fill="#b02a3c" stroke="#cf3d4e" stroke-width="0.8"/>
<line x1="517.10" y1="123.53" x2="517.10" y2="121.14" stroke="#cf3d4e" stroke-width="0.9"/>
<line x1="514.50" y1="121.14" x2="519.70" y2="121.14" stroke="#cf3d4e" stroke-width="0.9"/>
<line x1="517.10" y1="97.72" x2="517.10" y2="93.90" stroke="#cf3d4e" stroke-width="0.9"/>
<line x1="514.50" y1="93.90" x2="519.70" y2="93.90" stroke="#cf3d4e" stroke-width="0.9"/>
<line x1="517.10" y1="88.64" x2="517.10" y2="87.68" stroke="#cf3d4e" stroke-width="0.9"/>
<line x1="514.50" y1="87.68" x2="519.70" y2="87.68" stroke="#cf3d4e" stroke-width="0.9"/>
<line x1="517.10" y1="83.38" x2="517.10" y2="82.90" stroke="#cf3d4e" stroke-width="0.9"/>
<line x1="514.50" y1="82.90" x2="519.70" y2="82.90" stroke="#cf3d4e" stroke-width="0.9"/>
<polyline points="485.10,52.50 485.10,47.80 517.10,47.80 517.10,81.50" fill="none" stroke="#333" stroke-width="0.75" stroke-linejoin="round"/>
<path d="M498.02,41.90 L498.02,46.10 M496.21,42.95 L499.84,45.05 M499.84,42.95 L496.21,45.05 " stroke="#1e1e1e" stroke-width="1.0" stroke-linecap="round" fill="none"/>
<path d="M503.98,41.90 L503.98,46.10 M502.16,42.95 L505.79,45.05 M505.79,42.95 L502.16,45.05 " stroke="#1e1e1e" stroke-width="1.0" stroke-linecap="round" fill="none"/>
<text x="485.1" y="154.6" font-size="7.5" text-anchor="middle" fill="#1e1e1e" stroke="#1e1e1e" stroke-width="0.32" font-weight="normal">Naive</text>
<text x="519.0" y="154.6" font-size="7.5" text-anchor="middle" fill="#c4283c" stroke="#c4283c" stroke-width="0.32"><tspan font-style="italic">NAT10</tspan> KO</text>
<text x="445.5" y="100.6" font-size="8.8" text-anchor="middle" fill="#1e1e1e" stroke="#1e1e1e" stroke-width="0.32" font-weight="normal" transform="rotate(-90 445.5 100.6)">Number of spheroids / well</text>
<text x="609.3" y="34.9" font-size="11.6" text-anchor="start" fill="#111" stroke="#111" stroke-width="0.32" font-weight="normal">A172</text>
<text x="575.6" y="47.7" font-size="8.7" text-anchor="middle" fill="#111" stroke="#111" stroke-width="0.32" font-weight="normal">Naive</text>
<text x="576.4" y="104.4" font-size="8.7" text-anchor="middle" fill="#c4283c" stroke="#c4283c" stroke-width="0.32"><tspan font-style="italic">NAT10</tspan> KO</text>
<rect x="550.60" y="49.80" width="52.90" height="43.20" fill="#020204" stroke="none" stroke-width="0.8"/>
<circle cx="577.9" cy="59.5" r="1.3" fill="#2a2aff" filter="url(#blur05)"/>
<circle cx="578.2" cy="61.0" r="1.0" fill="#2a2aff" filter="url(#blur05)"/>
<circle cx="581.1" cy="58.6" r="0.6" fill="#2a2aff" filter="url(#blur05)"/>
<circle cx="584.3" cy="59.0" r="0.8" fill="#2a2aff" filter="url(#blur05)"/>
<circle cx="585.6" cy="60.2" r="0.6" fill="#2a2aff" filter="url(#blur05)"/>
<circle cx="587.9" cy="63.6" r="0.6" fill="#2a2aff" filter="url(#blur05)"/>
<circle cx="552.5" cy="61.3" r="0.5" fill="#2a2aff" filter="url(#blur05)"/>
<circle cx="555.7" cy="61.3" r="0.5" fill="#2a2aff" filter="url(#blur05)"/>
<circle cx="556.2" cy="69.5" r="0.6" fill="#2a2aff" filter="url(#blur05)"/>
<circle cx="593.3" cy="70.4" r="0.5" fill="#2a2aff" filter="url(#blur05)"/>
<circle cx="596.5" cy="69.9" r="0.7" fill="#2a2aff" filter="url(#blur05)"/>
<circle cx="596.5" cy="71.2" r="0.6" fill="#2a2aff" filter="url(#blur05)"/>
<circle cx="552.5" cy="75.4" r="0.4" fill="#2a2aff" filter="url(#blur05)"/>
<circle cx="567.5" cy="77.2" r="0.6" fill="#2a2aff" filter="url(#blur05)"/>
<circle cx="573.8" cy="76.7" r="0.6" fill="#2a2aff" filter="url(#blur05)"/>
<circle cx="577.9" cy="80.4" r="0.8" fill="#2a2aff" filter="url(#blur05)"/>
<circle cx="580.0" cy="81.5" r="0.6" fill="#2a2aff" filter="url(#blur05)"/>
<circle cx="572.5" cy="84.9" r="1.5" fill="#2a2aff" filter="url(#blur05)"/>
<circle cx="574.0" cy="84.0" r="1.0" fill="#2a2aff" filter="url(#blur05)"/>
<circle cx="569.8" cy="87.2" r="0.7" fill="#2a2aff" filter="url(#blur05)"/>
<circle cx="571.0" cy="86.2" r="0.7" fill="#2a2aff" filter="url(#blur05)"/>
<circle cx="579.3" cy="87.2" r="0.6" fill="#2a2aff" filter="url(#blur05)"/>
<circle cx="581.5" cy="89.4" r="0.5" fill="#2a2aff" filter="url(#blur05)"/>
<circle cx="556.2" cy="88.7" r="0.5" fill="#2a2aff" filter="url(#blur05)"/>
<circle cx="602.4" cy="83.5" r="0.4" fill="#2a2aff" filter="url(#blur05)"/>
<circle cx="575.7" cy="51.5" r="0.4" fill="#2a2aff" filter="url(#blur05)"/>
<circle cx="580.2" cy="51.5" r="0.4" fill="#2a2aff" filter="url(#blur05)"/>
<circle cx="576.0" cy="82.0" r="0.5" fill="#2a2aff" filter="url(#blur05)"/>
<rect x="550.60" y="107.60" width="52.90" height="43.60" fill="#020204" stroke="none" stroke-width="0.8"/>
<circle cx="570.7" cy="132.6" r="0.6" fill="#2a2aff" filter="url(#blur05)"/>
<circle cx="572.5" cy="134.3" r="0.7" fill="#2a2aff" filter="url(#blur05)"/>
<circle cx="574.2" cy="136.5" r="0.6" fill="#2a2aff" filter="url(#blur05)"/>
<circle cx="575.6" cy="138.7" r="0.5" fill="#2a2aff" filter="url(#blur05)"/>
<circle cx="567.5" cy="131.5" r="0.4" fill="#2a2aff" filter="url(#blur05)"/>
<line x1="638.10" y1="50.25" x2="638.10" y2="146.40" stroke="#1e1e1e" stroke-width="0.9"/>
<line x1="638.10" y1="146.40" x2="706.00" y2="146.40" stroke="#1e1e1e" stroke-width="0.9"/>
<line x1="638.10" y1="146.40" x2="641.70" y2="146.40" stroke="#1e1e1e" stroke-width="0.9"/>
<text x="633.8000000000001" y="149.20000000000002" font-size="7.5" text-anchor="end" fill="#1e1e1e" stroke="#1e1e1e" stroke-width="0.32" font-weight="normal">0</text>
<line x1="638.10" y1="114.35" x2="641.70" y2="114.35" stroke="#1e1e1e" stroke-width="0.9"/>
<text x="633.8000000000001" y="117.15" font-size="7.5" text-anchor="end" fill="#1e1e1e" stroke="#1e1e1e" stroke-width="0.32" font-weight="normal">50</text>
<line x1="638.10" y1="82.30" x2="641.70" y2="82.30" stroke="#1e1e1e" stroke-width="0.9"/>
<text x="633.8000000000001" y="85.10000000000001" font-size="7.5" text-anchor="end" fill="#1e1e1e" stroke="#1e1e1e" stroke-width="0.32" font-weight="normal">100</text>
<line x1="638.10" y1="50.25" x2="641.70" y2="50.25" stroke="#1e1e1e" stroke-width="0.9"/>
<text x="633.8000000000001" y="53.05" font-size="7.5" text-anchor="end" fill="#1e1e1e" stroke="#1e1e1e" stroke-width="0.32" font-weight="normal">150</text>
<rect x="650.00" y="119.48" width="15.60" height="26.92" fill="#ffffff" stroke="#222" stroke-width="0.8"/>
<rect x="650.00" y="92.56" width="15.60" height="26.92" fill="#eeeeee" stroke="#222" stroke-width="0.8"/>
<rect x="650.00" y="83.58" width="15.60" height="8.97" fill="#dddddd" stroke="#222" stroke-width="0.8"/>
<rect x="650.00" y="73.97" width="15.60" height="9.62" fill="#9c9c9c" stroke="#222" stroke-width="0.8"/>
<rect x="650.00" y="70.76" width="15.60" height="3.21" fill="#7a7a7a" stroke="#222" stroke-width="0.8"/>
<rect x="650.00" y="68.84" width="15.60" height="1.92" fill="#444444" stroke="#222" stroke-width="0.8"/>
<rect x="650.00" y="66.28" width="15.60" height="2.56" fill="#0d0d0d" stroke="#222" stroke-width="0.8"/>
<line x1="657.80" y1="119.48" x2="657.80" y2="112.43" stroke="#222" stroke-width="0.9"/>
<line x1="655.20" y1="112.43" x2="660.40" y2="112.43" stroke="#222" stroke-width="0.9"/>
<line x1="657.80" y1="83.58" x2="657.80" y2="92.56" stroke="#222" stroke-width="0.9"/>
<line x1="655.20" y1="92.56" x2="660.40" y2="92.56" stroke="#222" stroke-width="0.9"/>
<line x1="657.80" y1="73.97" x2="657.80" y2="81.66" stroke="#222" stroke-width="0.9"/>
<line x1="655.20" y1="81.66" x2="660.40" y2="81.66" stroke="#222" stroke-width="0.9"/>
<line x1="657.80" y1="70.76" x2="657.80" y2="71.40" stroke="#222" stroke-width="0.9"/>
<line x1="655.20" y1="71.40" x2="660.40" y2="71.40" stroke="#222" stroke-width="0.9"/>
<line x1="657.80" y1="66.28" x2="657.80" y2="64.99" stroke="#222" stroke-width="0.9"/>
<line x1="655.20" y1="64.99" x2="660.40" y2="64.99" stroke="#222" stroke-width="0.9"/>
<rect x="680.90" y="142.55" width="15.70" height="3.85" fill="#ffffff" stroke="#cf3d4e" stroke-width="0.8"/>
<rect x="680.90" y="139.99" width="15.70" height="2.56" fill="#fdf0f2" stroke="#cf3d4e" stroke-width="0.8"/>
<rect x="680.90" y="138.39" width="15.70" height="1.60" fill="#fbe2e6" stroke="#cf3d4e" stroke-width="0.8"/>
<rect x="680.90" y="137.43" width="15.70" height="0.96" fill="#f3c6cd" stroke="#cf3d4e" stroke-width="0.8"/>
<rect x="680.90" y="136.91" width="15.70" height="0.51" fill="#b5303f" stroke="#cf3d4e" stroke-width="0.8"/>
<line x1="688.75" y1="139.99" x2="688.75" y2="138.39" stroke="#cf3d4e" stroke-width="0.9"/>
<line x1="686.15" y1="138.39" x2="691.35" y2="138.39" stroke="#cf3d4e" stroke-width="0.9"/>
<polyline points="657.70,60.50 657.70,57.70 688.70,57.70 688.70,135.50" fill="none" stroke="#333" stroke-width="0.75" stroke-linejoin="round"/>
<path d="M670.52,51.70 L670.52,55.90 M668.71,52.75 L672.34,54.85 M672.34,52.75 L668.71,54.85 " stroke="#1e1e1e" stroke-width="1.0" stroke-linecap="round" fill="none"/>
<path d="M676.48,51.70 L676.48,55.90 M674.66,52.75 L678.29,54.85 M678.29,52.75 L674.66,54.85 " stroke="#1e1e1e" stroke-width="1.0" stroke-linecap="round" fill="none"/>
<text x="657.8" y="154.6" font-size="7.5" text-anchor="middle" fill="#1e1e1e" stroke="#1e1e1e" stroke-width="0.32" font-weight="normal">Naive</text>
<text x="690.65" y="154.6" font-size="7.5" text-anchor="middle" fill="#c4283c" stroke="#c4283c" stroke-width="0.32"><tspan font-style="italic">NAT10</tspan> KO</text>
<text x="617.4" y="100.3" font-size="8.8" text-anchor="middle" fill="#1e1e1e" stroke="#1e1e1e" stroke-width="0.32" font-weight="normal" transform="rotate(-90 617.4 100.3)">Number of spheroids / well</text>
<rect x="707.40" y="71.40" width="4.30" height="4.30" fill="#0a0a0a" stroke="#222" stroke-width="0.7"/>
<rect x="715.30" y="71.40" width="4.30" height="4.30" fill="#8e1b2b" stroke="#cf3d4e" stroke-width="0.7"/>
<path d="M724.3,72.30 L728.5,74.10 L724.3,75.80 M724.2,76.70 H728.6 M724.2,78.20 H728.6" stroke="#222" stroke-width="0.85" fill="none"/>
<text x="730.9" y="77.5" font-size="8.0" text-anchor="start" fill="#222" stroke="#222" stroke-width="0.32" font-weight="normal">500,000 &#x3bc;m<tspan font-size="5.2" dy="-2.3">3</tspan></text>
<rect x="707.40" y="81.12" width="4.30" height="4.30" fill="#555555" stroke="#222" stroke-width="0.7"/>
<rect x="715.30" y="81.12" width="4.30" height="4.30" fill="#c02537" stroke="#cf3d4e" stroke-width="0.7"/>
<path d="M724.3,82.02 L728.5,83.82 L724.3,85.52 M724.2,86.42 H728.6 M724.2,87.92 H728.6" stroke="#222" stroke-width="0.85" fill="none"/>
<text x="730.9" y="87.22" font-size="8.0" text-anchor="start" fill="#222" stroke="#222" stroke-width="0.32" font-weight="normal">300,000 &#x3bc;m<tspan font-size="5.2" dy="-2.3">3</tspan></text>
<rect x="707.40" y="90.84" width="4.30" height="4.30" fill="#777777" stroke="#222" stroke-width="0.7"/>
<rect x="715.30" y="90.84" width="4.30" height="4.30" fill="#e89aa6" stroke="#cf3d4e" stroke-width="0.7"/>
<path d="M724.3,91.74 L728.5,93.54 L724.3,95.24 M724.2,96.14 H728.6 M724.2,97.64 H728.6" stroke="#222" stroke-width="0.85" fill="none"/>
<text x="730.9" y="96.94" font-size="8.0" text-anchor="start" fill="#222" stroke="#222" stroke-width="0.32" font-weight="normal">100,000 &#x3bc;m<tspan font-size="5.2" dy="-2.3">3</tspan></text>
<rect x="707.40" y="100.56" width="4.30" height="4.30" fill="#9a9a9a" stroke="#222" stroke-width="0.7"/>
<rect x="715.30" y="100.56" width="4.30" height="4.30" fill="#f0b8c1" stroke="#cf3d4e" stroke-width="0.7"/>
<path d="M724.3,101.46 L728.5,103.26 L724.3,104.96 M724.2,105.86 H728.6 M724.2,107.36 H728.6" stroke="#222" stroke-width="0.85" fill="none"/>
<text x="730.9" y="106.66" font-size="8.0" text-anchor="start" fill="#222" stroke="#222" stroke-width="0.32" font-weight="normal">50,000 &#x3bc;m<tspan font-size="5.2" dy="-2.3">3</tspan></text>
<rect x="707.40" y="110.28" width="4.30" height="4.30" fill="#dddddd" stroke="#222" stroke-width="0.7"/>
<rect x="715.30" y="110.28" width="4.30" height="4.30" fill="#f8dde2" stroke="#cf3d4e" stroke-width="0.7"/>
<path d="M724.3,111.18 L728.5,112.98 L724.3,114.68 M724.2,115.58 H728.6 M724.2,117.08 H728.6" stroke="#222" stroke-width="0.85" fill="none"/>
<text x="730.9" y="116.38" font-size="8.0" text-anchor="start" fill="#222" stroke="#222" stroke-width="0.32" font-weight="normal">20,000 &#x3bc;m<tspan font-size="5.2" dy="-2.3">3</tspan></text>
<rect x="707.40" y="120.00" width="4.30" height="4.30" fill="#ffffff" stroke="#222" stroke-width="0.7"/>
<rect x="715.30" y="120.00" width="4.30" height="4.30" fill="#ffffff" stroke="#cf3d4e" stroke-width="0.7"/>
<path d="M724.3,120.90 L728.5,122.70 L724.3,124.40 M724.2,125.30 H728.6 M724.2,126.80 H728.6" stroke="#222" stroke-width="0.85" fill="none"/>
<text x="730.9" y="126.1" font-size="8.0" text-anchor="start" fill="#222" stroke="#222" stroke-width="0.32" font-weight="normal">10,000 &#x3bc;m<tspan font-size="5.2" dy="-2.3">3</tspan></text>
<g>
<rect x="66.20" y="218.70" width="79.80" height="66.30" fill="#7e7e7e" stroke="none" stroke-width="0.8"/>
<rect x="135.60" y="218.70" width="10.40" height="66.30" fill="#7b7b7b" stroke="none" stroke-width="0.8"/>
<path d="M66.2,218.7 H79 V285.0 H66.2 Z" fill="#949494" opacity="1" filter="url(#blur15)"/>
<path d="M84,219 C96,219 106,220 112,224 C119,231 122,240 121,249 C119,254 115,256 114,259 C117,265 118,272 114,279 C110,285 96,285 84,285 Z" fill="#9a9a9a" opacity="0.95" filter="url(#blur15)"/>
<g filter="url(#dnU1)">
<rect x="66.2" y="218.7" width="79.80" height="66.30" fill="#fff" fill-opacity="0.001"/>
<path d="M66.2,218.7 H78.5 V285.0 H66.2 Z" fill="#fff" opacity="1.0"/>
<path d="M84,219 C96,219 106,220 112,224 C119,231 122,240 121,249 C119,254 115,256 114,259 C117,265 118,272 114,279 C110,285 96,285 84,285 Z" fill="url(#gFan)" opacity="1.0" filter="url(#blur15)"/>
</g>
<path d="M78.98,222.43 Q78.98,220.93 80.48,221.08 C83.30,222.00 87.62,224.15 87.62,226.30 C87.62,228.45 83.30,230.60 80.48,231.53 Q78.98,231.68 78.98,230.18 Z" fill="none" stroke="#e6e6e6" stroke-width="3.0" opacity="0.7"/>
<path d="M78.98,222.43 Q78.98,220.93 80.48,221.08 C83.30,222.00 87.62,224.15 87.62,226.30 C87.62,228.45 83.30,230.60 80.48,231.53 Q78.98,231.68 78.98,230.18 Z" fill="#858585" stroke="#0a0a0a" stroke-width="1.15"/>
<path d="M80.23,223.23 Q80.23,222.23 81.23,222.38 C83.08,223.04 85.92,224.67 85.92,226.30 C85.92,227.93 83.08,229.56 81.23,230.22 Q80.23,230.38 80.23,229.38 Z" fill="none" stroke="#f6f6f6" stroke-width="0.8" opacity="0.95"/>
<path d="M78.98,239.12 Q78.98,237.62 80.48,237.78 C83.30,238.70 87.62,240.85 87.62,243.00 C87.62,245.15 83.30,247.30 80.48,248.22 Q78.98,248.38 78.98,246.88 Z" fill="none" stroke="#e6e6e6" stroke-width="3.0" opacity="0.7"/>
<path d="M78.98,239.12 Q78.98,237.62 80.48,237.78 C83.30,238.70 87.62,240.85 87.62,243.00 C87.62,245.15 83.30,247.30 80.48,248.22 Q78.98,248.38 78.98,246.88 Z" fill="#858585" stroke="#0a0a0a" stroke-width="1.15"/>
<path d="M80.23,239.93 Q80.23,238.93 81.23,239.08 C83.08,239.74 85.92,241.37 85.92,243.00 C85.92,244.63 83.08,246.26 81.23,246.92 Q80.23,247.07 80.23,246.07 Z" fill="none" stroke="#f6f6f6" stroke-width="0.8" opacity="0.95"/>
<path d="M78.98,256.12 Q78.98,254.62 80.48,254.78 C83.30,255.70 87.62,257.85 87.62,260.00 C87.62,262.15 83.30,264.30 80.48,265.23 Q78.98,265.38 78.98,263.88 Z" fill="none" stroke="#e6e6e6" stroke-width="3.0" opacity="0.7"/>
<path d="M78.98,256.12 Q78.98,254.62 80.48,254.78 C83.30,255.70 87.62,257.85 87.62,260.00 C87.62,262.15 83.30,264.30 80.48,265.23 Q78.98,265.38 78.98,263.88 Z" fill="#858585" stroke="#0a0a0a" stroke-width="1.15"/>
<path d="M80.23,256.93 Q80.23,255.93 81.23,256.07 C83.08,256.74 85.92,258.37 85.92,260.00 C85.92,261.63 83.08,263.26 81.23,263.93 Q80.23,264.07 80.23,263.07 Z" fill="none" stroke="#f6f6f6" stroke-width="0.8" opacity="0.95"/>
<path d="M78.98,272.93 Q78.98,271.43 80.48,271.57 C83.30,272.50 87.62,274.65 87.62,276.80 C87.62,278.95 83.30,281.10 80.48,282.03 Q78.98,282.18 78.98,280.68 Z" fill="none" stroke="#e6e6e6" stroke-width="3.0" opacity="0.7"/>
<path d="M78.98,272.93 Q78.98,271.43 80.48,271.57 C83.30,272.50 87.62,274.65 87.62,276.80 C87.62,278.95 83.30,281.10 80.48,282.03 Q78.98,282.18 78.98,280.68 Z" fill="#858585" stroke="#0a0a0a" stroke-width="1.15"/>
<path d="M80.23,273.73 Q80.23,272.73 81.23,272.88 C83.08,273.54 85.92,275.17 85.92,276.80 C85.92,278.43 83.08,280.06 81.23,280.73 Q80.23,280.88 80.23,279.88 Z" fill="none" stroke="#f6f6f6" stroke-width="0.8" opacity="0.95"/>
<path d="M134.33,221.93 Q134.33,220.43 132.83,220.58 C130.00,221.50 125.67,223.65 125.67,225.80 C125.67,227.95 130.00,230.10 132.83,231.03 Q134.33,231.18 134.33,229.68 Z" fill="none" stroke="#e6e6e6" stroke-width="3.0" opacity="0.7"/>
<path d="M134.33,221.93 Q134.33,220.43 132.83,220.58 C130.00,221.50 125.67,223.65 125.67,225.80 C125.67,227.95 130.00,230.10 132.83,231.03 Q134.33,231.18 134.33,229.68 Z" fill="#858585" stroke="#0a0a0a" stroke-width="1.15"/>
<path d="M133.08,222.73 Q133.08,221.73 132.08,221.88 C130.23,222.54 127.38,224.17 127.38,225.80 C127.38,227.43 130.23,229.06 132.08,229.72 Q133.08,229.88 133.08,228.88 Z" fill="none" stroke="#f6f6f6" stroke-width="0.8" opacity="0.95"/>
<path d="M134.33,239.12 Q134.33,237.62 132.83,237.78 C130.00,238.70 125.67,240.85 125.67,243.00 C125.67,245.15 130.00,247.30 132.83,248.22 Q134.33,248.38 134.33,246.88 Z" fill="none" stroke="#e6e6e6" stroke-width="3.0" opacity="0.7"/>
<path d="M134.33,239.12 Q134.33,237.62 132.83,237.78 C130.00,238.70 125.67,240.85 125.67,243.00 C125.67,245.15 130.00,247.30 132.83,248.22 Q134.33,248.38 134.33,246.88 Z" fill="#858585" stroke="#0a0a0a" stroke-width="1.15"/>
<path d="M133.08,239.93 Q133.08,238.93 132.08,239.08 C130.23,239.74 127.38,241.37 127.38,243.00 C127.38,244.63 130.23,246.26 132.08,246.92 Q133.08,247.07 133.08,246.07 Z" fill="none" stroke="#f6f6f6" stroke-width="0.8" opacity="0.95"/>
<path d="M134.33,256.12 Q134.33,254.62 132.83,254.78 C130.00,255.70 125.67,257.85 125.67,260.00 C125.67,262.15 130.00,264.30 132.83,265.23 Q134.33,265.38 134.33,263.88 Z" fill="none" stroke="#e6e6e6" stroke-width="3.0" opacity="0.7"/>
<path d="M134.33,256.12 Q134.33,254.62 132.83,254.78 C130.00,255.70 125.67,257.85 125.67,260.00 C125.67,262.15 130.00,264.30 132.83,265.23 Q134.33,265.38 134.33,263.88 Z" fill="#858585" stroke="#0a0a0a" stroke-width="1.15"/>
<path d="M133.08,256.93 Q133.08,255.93 132.08,256.07 C130.23,256.74 127.38,258.37 127.38,260.00 C127.38,261.63 130.23,263.26 132.08,263.93 Q133.08,264.07 133.08,263.07 Z" fill="none" stroke="#f6f6f6" stroke-width="0.8" opacity="0.95"/>
<path d="M134.33,273.32 Q134.33,271.82 132.83,271.97 C130.00,272.90 125.67,275.05 125.67,277.20 C125.67,279.35 130.00,281.50 132.83,282.43 Q134.33,282.57 134.33,281.07 Z" fill="none" stroke="#e6e6e6" stroke-width="3.0" opacity="0.7"/>
<path d="M134.33,273.32 Q134.33,271.82 132.83,271.97 C130.00,272.90 125.67,275.05 125.67,277.20 C125.67,279.35 130.00,281.50 132.83,282.43 Q134.33,282.57 134.33,281.07 Z" fill="#858585" stroke="#0a0a0a" stroke-width="1.15"/>
<path d="M133.08,274.12 Q133.08,273.12 132.08,273.27 C130.23,273.94 127.38,275.57 127.38,277.20 C127.38,278.83 130.23,280.46 132.08,281.12 Q133.08,281.27 133.08,280.27 Z" fill="none" stroke="#f6f6f6" stroke-width="0.8" opacity="0.95"/>
</g>
<g>
<rect x="66.20" y="292.80" width="79.80" height="67.00" fill="#7d7d7d" stroke="none" stroke-width="0.8"/>
<rect x="135.60" y="292.80" width="10.40" height="67.00" fill="#7a7a7a" stroke="none" stroke-width="0.8"/>
<path d="M66.2,292.8 H79 V359.8 H66.2 Z" fill="#959595" opacity="1" filter="url(#blur15)"/>
<g filter="url(#dnU2)">
<rect x="66.2" y="292.8" width="79.80" height="67.00" fill="#fff" fill-opacity="0.001"/>
<path d="M66.2,292.8 H78.5 V359.8 H66.2 Z" fill="#fff" opacity="1.0"/>
<path d="M66.2,292.9 H84 C90,300 92,320 93,335 C94,345 92,352 90,359 H66.2 Z" fill="#fff" opacity="0.82" filter="url(#blur15)"/>
</g>
<path d="M78.78,297.12 Q78.78,295.62 80.28,295.77 C83.05,296.70 87.33,298.85 87.33,301.00 C87.33,303.15 83.05,305.30 80.28,306.23 Q78.78,306.38 78.78,304.88 Z" fill="none" stroke="#e6e6e6" stroke-width="3.0" opacity="0.7"/>
<path d="M78.78,297.12 Q78.78,295.62 80.28,295.77 C83.05,296.70 87.33,298.85 87.33,301.00 C87.33,303.15 83.05,305.30 80.28,306.23 Q78.78,306.38 78.78,304.88 Z" fill="#858585" stroke="#0a0a0a" stroke-width="1.15"/>
<path d="M80.03,297.93 Q80.03,296.93 81.03,297.07 C82.83,297.74 85.62,299.37 85.62,301.00 C85.62,302.63 82.83,304.26 81.03,304.93 Q80.03,305.07 80.03,304.07 Z" fill="none" stroke="#f6f6f6" stroke-width="0.8" opacity="0.95"/>
<path d="M78.78,314.73 Q78.78,313.23 80.28,313.38 C83.05,314.30 87.33,316.45 87.33,318.60 C87.33,320.75 83.05,322.90 80.28,323.83 Q78.78,323.98 78.78,322.48 Z" fill="none" stroke="#e6e6e6" stroke-width="3.0" opacity="0.7"/>
<path d="M78.78,314.73 Q78.78,313.23 80.28,313.38 C83.05,314.30 87.33,316.45 87.33,318.60 C87.33,320.75 83.05,322.90 80.28,323.83 Q78.78,323.98 78.78,322.48 Z" fill="#858585" stroke="#0a0a0a" stroke-width="1.15"/>
<path d="M80.03,315.53 Q80.03,314.53 81.03,314.68 C82.83,315.34 85.62,316.97 85.62,318.60 C85.62,320.23 82.83,321.86 81.03,322.53 Q80.03,322.68 80.03,321.68 Z" fill="none" stroke="#f6f6f6" stroke-width="0.8" opacity="0.95"/>
<path d="M78.78,332.02 Q78.78,330.52 80.28,330.67 C83.05,331.60 87.33,333.75 87.33,335.90 C87.33,338.05 83.05,340.20 80.28,341.12 Q78.78,341.27 78.78,339.77 Z" fill="none" stroke="#e6e6e6" stroke-width="3.0" opacity="0.7"/>
<path d="M78.78,332.02 Q78.78,330.52 80.28,330.67 C83.05,331.60 87.33,333.75 87.33,335.90 C87.33,338.05 83.05,340.20 80.28,341.12 Q78.78,341.27 78.78,339.77 Z" fill="#858585" stroke="#0a0a0a" stroke-width="1.15"/>
<path d="M80.03,332.82 Q80.03,331.82 81.03,331.97 C82.83,332.64 85.62,334.27 85.62,335.90 C85.62,337.53 82.83,339.16 81.03,339.82 Q80.03,339.97 80.03,338.97 Z" fill="none" stroke="#f6f6f6" stroke-width="0.8" opacity="0.95"/>
<path d="M78.78,348.82 Q78.78,347.32 80.28,347.47 C83.05,348.40 87.33,350.55 87.33,352.70 C87.33,354.85 83.05,357.00 80.28,357.93 Q78.78,358.07 78.78,356.57 Z" fill="none" stroke="#e6e6e6" stroke-width="3.0" opacity="0.7"/>
<path d="M78.78,348.82 Q78.78,347.32 80.28,347.47 C83.05,348.40 87.33,350.55 87.33,352.70 C87.33,354.85 83.05,357.00 80.28,357.93 Q78.78,358.07 78.78,356.57 Z" fill="#858585" stroke="#0a0a0a" stroke-width="1.15"/>
<path d="M80.03,349.62 Q80.03,348.62 81.03,348.77 C82.83,349.44 85.62,351.07 85.62,352.70 C85.62,354.33 82.83,355.96 81.03,356.62 Q80.03,356.77 80.03,355.77 Z" fill="none" stroke="#f6f6f6" stroke-width="0.8" opacity="0.95"/>
<path d="M133.62,296.93 Q133.62,295.43 132.12,295.57 C129.30,296.50 124.98,298.65 124.98,300.80 C124.98,302.95 129.30,305.10 132.12,306.03 Q133.62,306.18 133.62,304.68 Z" fill="none" stroke="#e6e6e6" stroke-width="3.0" opacity="0.7"/>
<path d="M133.62,296.93 Q133.62,295.43 132.12,295.57 C129.30,296.50 124.98,298.65 124.98,300.80 C124.98,302.95 129.30,305.10 132.12,306.03 Q133.62,306.18 133.62,304.68 Z" fill="#858585" stroke="#0a0a0a" stroke-width="1.15"/>
<path d="M132.38,297.73 Q132.38,296.73 131.38,296.88 C129.53,297.54 126.68,299.17 126.68,300.80 C126.68,302.43 129.53,304.06 131.38,304.73 Q132.38,304.88 132.38,303.88 Z" fill="none" stroke="#f6f6f6" stroke-width="0.8" opacity="0.95"/>
<path d="M133.62,314.23 Q133.62,312.73 132.12,312.88 C129.30,313.80 124.98,315.95 124.98,318.10 C124.98,320.25 129.30,322.40 132.12,323.33 Q133.62,323.48 133.62,321.98 Z" fill="none" stroke="#e6e6e6" stroke-width="3.0" opacity="0.7"/>
<path d="M133.62,314.23 Q133.62,312.73 132.12,312.88 C129.30,313.80 124.98,315.95 124.98,318.10 C124.98,320.25 129.30,322.40 132.12,323.33 Q133.62,323.48 133.62,321.98 Z" fill="#858585" stroke="#0a0a0a" stroke-width="1.15"/>
<path d="M132.38,315.03 Q132.38,314.03 131.38,314.18 C129.53,314.84 126.68,316.47 126.68,318.10 C126.68,319.73 129.53,321.36 131.38,322.03 Q132.38,322.18 132.38,321.18 Z" fill="none" stroke="#f6f6f6" stroke-width="0.8" opacity="0.95"/>
<path d="M133.62,331.43 Q133.62,329.93 132.12,330.07 C129.30,331.00 124.98,333.15 124.98,335.30 C124.98,337.45 129.30,339.60 132.12,340.53 Q133.62,340.68 133.62,339.18 Z" fill="none" stroke="#e6e6e6" stroke-width="3.0" opacity="0.7"/>
<path d="M133.62,331.43 Q133.62,329.93 132.12,330.07 C129.30,331.00 124.98,333.15 124.98,335.30 C124.98,337.45 129.30,339.60 132.12,340.53 Q133.62,340.68 133.62,339.18 Z" fill="#858585" stroke="#0a0a0a" stroke-width="1.15"/>
<path d="M132.38,332.23 Q132.38,331.23 131.38,331.38 C129.53,332.04 126.68,333.67 126.68,335.30 C126.68,336.93 129.53,338.56 131.38,339.23 Q132.38,339.38 132.38,338.38 Z" fill="none" stroke="#f6f6f6" stroke-width="0.8" opacity="0.95"/>
<path d="M133.62,348.52 Q133.62,347.02 132.12,347.17 C129.30,348.10 124.98,350.25 124.98,352.40 C124.98,354.55 129.30,356.70 132.12,357.62 Q133.62,357.77 133.62,356.27 Z" fill="none" stroke="#e6e6e6" stroke-width="3.0" opacity="0.7"/>
<path d="M133.62,348.52 Q133.62,347.02 132.12,347.17 C129.30,348.10 124.98,350.25 124.98,352.40 C124.98,354.55 129.30,356.70 132.12,357.62 Q133.62,357.77 133.62,356.27 Z" fill="#858585" stroke="#0a0a0a" stroke-width="1.15"/>
<path d="M132.38,349.32 Q132.38,348.32 131.38,348.47 C129.53,349.14 126.68,350.77 126.68,352.40 C126.68,354.03 129.53,355.66 131.38,356.32 Q132.38,356.47 132.38,355.47 Z" fill="none" stroke="#f6f6f6" stroke-width="0.8" opacity="0.95"/>
</g>
<g>
<rect x="195.00" y="218.70" width="85.20" height="66.30" fill="#7f7f7f" stroke="none" stroke-width="0.8"/>
<rect x="267.50" y="218.70" width="12.70" height="66.30" fill="#6c6c6c" stroke="none" stroke-width="0.8"/>
<path d="M195.0,218.7 H211 V285.0 H195.0 Z" fill="#939393" opacity="1" filter="url(#blur15)"/>
<path d="M208,218.7 H236 C232,240 236,262 232,285 H208 Z" fill="#848484" opacity="0.6" filter="url(#blur15)"/>
<g filter="url(#dnA1)">
<rect x="195.0" y="218.7" width="85.20" height="66.30" fill="#fff" fill-opacity="0.001"/>
<path d="M195.0,218.7 H210.5 V285.0 H195.0 Z" fill="#fff" opacity="0.985"/>
<path d="M209,218.7 H262 V285 H209 Z" fill="url(#gA1)" opacity="1.0" filter="url(#blur15)"/>
</g>
<path d="M210.67,222.78 Q210.67,221.28 212.17,221.43 C214.43,223.09 218.52,225.53 219.03,226.60 C218.52,227.66 214.43,230.11 212.17,231.77 Q210.67,231.92 210.67,230.42 Z" fill="none" stroke="#e6e6e6" stroke-width="3.0" opacity="0.7"/>
<path d="M210.67,222.78 Q210.67,221.28 212.17,221.43 C214.43,223.09 218.52,225.53 219.03,226.60 C218.52,227.66 214.43,230.11 212.17,231.77 Q210.67,231.92 210.67,230.42 Z" fill="#858585" stroke="#0a0a0a" stroke-width="1.15"/>
<path d="M211.92,223.57 Q211.92,222.57 212.92,222.72 C214.35,223.94 217.00,225.79 217.33,226.60 C217.00,227.41 214.35,229.26 212.92,230.47 Q211.92,230.62 211.92,229.62 Z" fill="none" stroke="#f6f6f6" stroke-width="0.8" opacity="0.95"/>
<path d="M210.67,240.18 Q210.67,238.68 212.17,238.83 C214.43,240.49 218.52,242.94 219.03,244.00 C218.52,245.06 214.43,247.51 212.17,249.17 Q210.67,249.32 210.67,247.82 Z" fill="none" stroke="#e6e6e6" stroke-width="3.0" opacity="0.7"/>
<path d="M210.67,240.18 Q210.67,238.68 212.17,238.83 C214.43,240.49 218.52,242.94 219.03,244.00 C218.52,245.06 214.43,247.51 212.17,249.17 Q210.67,249.32 210.67,247.82 Z" fill="#858585" stroke="#0a0a0a" stroke-width="1.15"/>
<path d="M211.92,240.97 Q211.92,239.97 212.92,240.12 C214.35,241.34 217.00,243.19 217.33,244.00 C217.00,244.81 214.35,246.66 212.92,247.88 Q211.92,248.03 211.92,247.03 Z" fill="none" stroke="#f6f6f6" stroke-width="0.8" opacity="0.95"/>
<path d="M210.67,258.18 Q210.67,256.68 212.17,256.82 C214.43,258.49 218.52,260.94 219.03,262.00 C218.52,263.06 214.43,265.51 212.17,267.18 Q210.67,267.32 210.67,265.82 Z" fill="none" stroke="#e6e6e6" stroke-width="3.0" opacity="0.7"/>
<path d="M210.67,258.18 Q210.67,256.68 212.17,256.82 C214.43,258.49 218.52,260.94 219.03,262.00 C218.52,263.06 214.43,265.51 212.17,267.18 Q210.67,267.32 210.67,265.82 Z" fill="#858585" stroke="#0a0a0a" stroke-width="1.15"/>
<path d="M211.92,258.98 Q211.92,257.98 212.92,258.12 C214.35,259.34 217.00,261.19 217.33,262.00 C217.00,262.81 214.35,264.66 212.92,265.88 Q211.92,266.02 211.92,265.02 Z" fill="none" stroke="#f6f6f6" stroke-width="0.8" opacity="0.95"/>
<path d="M210.67,275.48 Q210.67,273.98 212.17,274.12 C214.43,275.79 218.52,278.24 219.03,279.30 C218.52,280.37 214.43,282.81 212.17,284.48 Q210.67,284.62 210.67,283.12 Z" fill="none" stroke="#e6e6e6" stroke-width="3.0" opacity="0.7"/>
<path d="M210.67,275.48 Q210.67,273.98 212.17,274.12 C214.43,275.79 218.52,278.24 219.03,279.30 C218.52,280.37 214.43,282.81 212.17,284.48 Q210.67,284.62 210.67,283.12 Z" fill="#858585" stroke="#0a0a0a" stroke-width="1.15"/>
<path d="M211.92,276.28 Q211.92,275.28 212.92,275.43 C214.35,276.64 217.00,278.50 217.33,279.30 C217.00,280.11 214.35,281.96 212.92,283.18 Q211.92,283.32 211.92,282.32 Z" fill="none" stroke="#f6f6f6" stroke-width="0.8" opacity="0.95"/>
<path d="M266.60,222.70 Q266.60,221.20 265.10,221.35 C262.87,223.00 258.80,225.44 258.30,226.50 C258.80,227.56 262.87,230.00 265.10,231.65 Q266.60,231.80 266.60,230.30 Z" fill="#7a7a7a" stroke="#f2f2f2" stroke-width="1.4"/>
<path d="M265.50,223.40 Q265.50,222.40 264.50,222.55 C262.93,223.79 260.14,225.68 259.80,226.50 C260.14,227.32 262.93,229.21 264.50,230.45 Q265.50,230.60 265.50,229.60 Z" fill="none" stroke="#5a5a5a" stroke-width="0.6" opacity="0.8"/>
<rect x="266.00" y="221.10" width="1.2" height="1.3" fill="#111"/>
<rect x="266.00" y="230.60" width="1.2" height="1.3" fill="#111"/>
<path d="M266.60,240.60 Q266.60,239.10 265.10,239.25 C262.87,240.90 258.80,243.34 258.30,244.40 C258.80,245.46 262.87,247.90 265.10,249.55 Q266.60,249.70 266.60,248.20 Z" fill="#7a7a7a" stroke="#f2f2f2" stroke-width="1.4"/>
<path d="M265.50,241.30 Q265.50,240.30 264.50,240.45 C262.93,241.69 260.14,243.58 259.80,244.40 C260.14,245.22 262.93,247.11 264.50,248.35 Q265.50,248.50 265.50,247.50 Z" fill="none" stroke="#5a5a5a" stroke-width="0.6" opacity="0.8"/>
<rect x="266.00" y="239.00" width="1.2" height="1.3" fill="#111"/>
<rect x="266.00" y="248.50" width="1.2" height="1.3" fill="#111"/>
<path d="M266.60,259.00 Q266.60,257.50 265.10,257.65 C262.87,259.30 258.80,261.74 258.30,262.80 C258.80,263.86 262.87,266.30 265.10,267.95 Q266.60,268.10 266.60,266.60 Z" fill="#7a7a7a" stroke="#f2f2f2" stroke-width="1.4"/>
<path d="M265.50,259.70 Q265.50,258.70 264.50,258.85 C262.93,260.09 260.14,261.98 259.80,262.80 C260.14,263.62 262.93,265.51 264.50,266.75 Q265.50,266.90 265.50,265.90 Z" fill="none" stroke="#5a5a5a" stroke-width="0.6" opacity="0.8"/>
<rect x="266.00" y="257.40" width="1.2" height="1.3" fill="#111"/>
<rect x="266.00" y="266.90" width="1.2" height="1.3" fill="#111"/>
<path d="M266.60,276.20 Q266.60,274.70 265.10,274.85 C262.87,276.50 258.80,278.94 258.30,280.00 C258.80,281.06 262.87,283.50 265.10,285.15 Q266.60,285.30 266.60,283.80 Z" fill="#7a7a7a" stroke="#f2f2f2" stroke-width="1.4"/>
<path d="M265.50,276.90 Q265.50,275.90 264.50,276.05 C262.93,277.29 260.14,279.18 259.80,280.00 C260.14,280.82 262.93,282.71 264.50,283.95 Q265.50,284.10 265.50,283.10 Z" fill="none" stroke="#5a5a5a" stroke-width="0.6" opacity="0.8"/>
<rect x="266.00" y="274.60" width="1.2" height="1.3" fill="#111"/>
<rect x="266.00" y="284.10" width="1.2" height="1.3" fill="#111"/>
</g>
<g>
<rect x="195.00" y="293.00" width="85.00" height="66.60" fill="#7c7c7c" stroke="none" stroke-width="0.8"/>
<rect x="265.80" y="293.00" width="14.20" height="66.60" fill="#717171" stroke="none" stroke-width="0.8"/>
<path d="M195.0,293.0 H211 V359.6 H195.0 Z" fill="#979797" opacity="1" filter="url(#blur15)"/>
<g filter="url(#dnA2)">
<rect x="195.0" y="293.0" width="85.00" height="66.60" fill="#fff" fill-opacity="0.001"/>
<path d="M195.0,293.0 H210.5 V359.6 H195.0 Z" fill="#fff" opacity="1.0"/>
<path d="M205,293.3 H238 C233,305 236,318 232,330 C230,340 234,350 238,359 H205 Z" fill="url(#gA2)" opacity="1.0" filter="url(#blur15)"/>
</g>
<path d="M210.67,297.27 Q210.67,295.77 212.17,295.92 C214.57,297.55 218.81,299.95 219.33,301.00 C218.81,302.05 214.57,304.45 212.17,306.08 Q210.67,306.23 210.67,304.73 Z" fill="none" stroke="#e6e6e6" stroke-width="3.0" opacity="0.7"/>
<path d="M210.67,297.27 Q210.67,295.77 212.17,295.92 C214.57,297.55 218.81,299.95 219.33,301.00 C218.81,302.05 214.57,304.45 212.17,306.08 Q210.67,306.23 210.67,304.73 Z" fill="#858585" stroke="#0a0a0a" stroke-width="1.15"/>
<path d="M211.92,298.07 Q211.92,297.07 212.92,297.22 C214.49,298.41 217.28,300.21 217.63,301.00 C217.28,301.79 214.49,303.59 212.92,304.78 Q211.92,304.93 211.92,303.93 Z" fill="none" stroke="#f6f6f6" stroke-width="0.8" opacity="0.95"/>
<path d="M210.67,314.47 Q210.67,312.97 212.17,313.12 C214.57,314.75 218.81,317.15 219.33,318.20 C218.81,319.25 214.57,321.65 212.17,323.28 Q210.67,323.43 210.67,321.93 Z" fill="none" stroke="#e6e6e6" stroke-width="3.0" opacity="0.7"/>
<path d="M210.67,314.47 Q210.67,312.97 212.17,313.12 C214.57,314.75 218.81,317.15 219.33,318.20 C218.81,319.25 214.57,321.65 212.17,323.28 Q210.67,323.43 210.67,321.93 Z" fill="#858585" stroke="#0a0a0a" stroke-width="1.15"/>
<path d="M211.92,315.27 Q211.92,314.27 212.92,314.42 C214.49,315.61 217.28,317.41 217.63,318.20 C217.28,318.99 214.49,320.79 212.92,321.98 Q211.92,322.12 211.92,321.12 Z" fill="none" stroke="#f6f6f6" stroke-width="0.8" opacity="0.95"/>
<path d="M210.67,332.07 Q210.67,330.57 212.17,330.72 C214.57,332.35 218.81,334.75 219.33,335.80 C218.81,336.85 214.57,339.25 212.17,340.88 Q210.67,341.03 210.67,339.53 Z" fill="none" stroke="#e6e6e6" stroke-width="3.0" opacity="0.7"/>
<path d="M210.67,332.07 Q210.67,330.57 212.17,330.72 C214.57,332.35 218.81,334.75 219.33,335.80 C218.81,336.85 214.57,339.25 212.17,340.88 Q210.67,341.03 210.67,339.53 Z" fill="#858585" stroke="#0a0a0a" stroke-width="1.15"/>
<path d="M211.92,332.88 Q211.92,331.88 212.92,332.02 C214.49,333.21 217.28,335.01 217.63,335.80 C217.28,336.59 214.49,338.39 212.92,339.58 Q211.92,339.73 211.92,338.73 Z" fill="none" stroke="#f6f6f6" stroke-width="0.8" opacity="0.95"/>
<path d="M210.67,348.97 Q210.67,347.47 212.17,347.62 C214.57,349.25 218.81,351.65 219.33,352.70 C218.81,353.75 214.57,356.15 212.17,357.78 Q210.67,357.93 210.67,356.43 Z" fill="none" stroke="#e6e6e6" stroke-width="3.0" opacity="0.7"/>
<path d="M210.67,348.97 Q210.67,347.47 212.17,347.62 C214.57,349.25 218.81,351.65 219.33,352.70 C218.81,353.75 214.57,356.15 212.17,357.78 Q210.67,357.93 210.67,356.43 Z" fill="#858585" stroke="#0a0a0a" stroke-width="1.15"/>
<path d="M211.92,349.77 Q211.92,348.77 212.92,348.92 C214.49,350.11 217.28,351.91 217.63,352.70 C217.28,353.49 214.49,355.29 212.92,356.48 Q211.92,356.62 211.92,355.62 Z" fill="none" stroke="#f6f6f6" stroke-width="0.8" opacity="0.95"/>
<path d="M265.10,296.50 Q265.10,295.00 263.60,295.15 C261.05,296.04 257.00,298.12 257.00,300.20 C257.00,302.28 261.05,304.36 263.60,305.25 Q265.10,305.40 265.10,303.90 Z" fill="#7a7a7a" stroke="#f2f2f2" stroke-width="1.4"/>
<path d="M264.00,297.20 Q264.00,296.20 263.00,296.35 C261.25,297.00 258.50,298.60 258.50,300.20 C258.50,301.80 261.25,303.40 263.00,304.05 Q264.00,304.20 264.00,303.20 Z" fill="none" stroke="#5a5a5a" stroke-width="0.6" opacity="0.8"/>
<rect x="264.50" y="294.90" width="1.2" height="1.3" fill="#111"/>
<rect x="264.50" y="304.20" width="1.2" height="1.3" fill="#111"/>
<path d="M265.10,314.20 Q265.10,312.70 263.60,312.85 C261.05,313.74 257.00,315.82 257.00,317.90 C257.00,319.98 261.05,322.06 263.60,322.95 Q265.10,323.10 265.10,321.60 Z" fill="#7a7a7a" stroke="#f2f2f2" stroke-width="1.4"/>
<path d="M264.00,314.90 Q264.00,313.90 263.00,314.05 C261.25,314.70 258.50,316.30 258.50,317.90 C258.50,319.50 261.25,321.10 263.00,321.75 Q264.00,321.90 264.00,320.90 Z" fill="none" stroke="#5a5a5a" stroke-width="0.6" opacity="0.8"/>
<rect x="264.50" y="312.60" width="1.2" height="1.3" fill="#111"/>
<rect x="264.50" y="321.90" width="1.2" height="1.3" fill="#111"/>
<path d="M265.10,331.90 Q265.10,330.40 263.60,330.55 C261.05,331.44 257.00,333.52 257.00,335.60 C257.00,337.68 261.05,339.76 263.60,340.65 Q265.10,340.80 265.10,339.30 Z" fill="#7a7a7a" stroke="#f2f2f2" stroke-width="1.4"/>
<path d="M264.00,332.60 Q264.00,331.60 263.00,331.75 C261.25,332.40 258.50,334.00 258.50,335.60 C258.50,337.20 261.25,338.80 263.00,339.45 Q264.00,339.60 264.00,338.60 Z" fill="none" stroke="#5a5a5a" stroke-width="0.6" opacity="0.8"/>
<rect x="264.50" y="330.30" width="1.2" height="1.3" fill="#111"/>
<rect x="264.50" y="339.60" width="1.2" height="1.3" fill="#111"/>
<path d="M265.10,349.00 Q265.10,347.50 263.60,347.65 C261.05,348.54 257.00,350.62 257.00,352.70 C257.00,354.78 261.05,356.86 263.60,357.75 Q265.10,357.90 265.10,356.40 Z" fill="#7a7a7a" stroke="#f2f2f2" stroke-width="1.4"/>
<path d="M264.00,349.70 Q264.00,348.70 263.00,348.85 C261.25,349.50 258.50,351.10 258.50,352.70 C258.50,354.30 261.25,355.90 263.00,356.55 Q264.00,356.70 264.00,355.70 Z" fill="none" stroke="#5a5a5a" stroke-width="0.6" opacity="0.8"/>
<rect x="264.50" y="347.40" width="1.2" height="1.3" fill="#111"/>
<rect x="264.50" y="356.70" width="1.2" height="1.3" fill="#111"/>
</g>
<text x="95.2" y="209.1" font-size="11.6" text-anchor="start" fill="#111" stroke="#111" stroke-width="0.32" font-weight="normal">U251</text>
<line x1="84.70" y1="214.80" x2="129.30" y2="214.80" stroke="#111" stroke-width="1.6"/>
<path d="M127.8,212.0 L133.3,214.8 L127.8,217.6 Z" fill="#111"/>
<text x="225.0" y="208.9" font-size="11.6" text-anchor="start" fill="#111" stroke="#111" stroke-width="0.32" font-weight="normal">A172</text>
<line x1="214.30" y1="214.80" x2="260.70" y2="214.80" stroke="#111" stroke-width="1.6"/>
<path d="M259.2,212.0 L264.7,214.8 L259.2,217.6 Z" fill="#111"/>
<text x="58.9" y="255.3" font-size="10.3" text-anchor="middle" fill="#111" stroke="#111" stroke-width="0.32" font-weight="normal" transform="rotate(-90 58.9 255.3)">Naive</text>
<text x="188.3" y="254.0" font-size="10.3" text-anchor="middle" fill="#111" stroke="#111" stroke-width="0.32" font-weight="normal" transform="rotate(-90 188.3 254.0)">Naive</text>
<text x="60.3" y="325.4" font-size="10.2" text-anchor="middle" fill="#c4283c" stroke="#c4283c" stroke-width="0.32" transform="rotate(-90 60.3 325.4)"><tspan font-style="italic">NAT10</tspan> KO</text>
<text x="190.8" y="325.2" font-size="10.2" text-anchor="middle" fill="#c4283c" stroke="#c4283c" stroke-width="0.32" transform="rotate(-90 190.8 325.2)"><tspan font-style="italic">NAT10</tspan> KO</text>
<text x="61.4" y="371.1" font-size="7.6" text-anchor="middle" fill="#1e1e1e" stroke="#1e1e1e" stroke-width="0.32" font-weight="normal">Serum-free</text>
<text x="61.4" y="380.3" font-size="7.6" text-anchor="middle" fill="#1e1e1e" stroke="#1e1e1e" stroke-width="0.32" font-weight="normal">medium</text>
<polygon points="82.6,383.8 133.5,383.8 133.5,373.8" fill="url(#fbsgrad)"/>
<rect x="81.60" y="363.10" width="51.90" height="10.40" fill="#a3c8ec" stroke="#3c9a8e" stroke-width="0.9"/>
<text x="107.55" y="371.5" font-size="8.8" text-anchor="middle" fill="#111" stroke="#111" stroke-width="0.32" font-weight="normal">Collagen</text>
<text x="107.8" y="382.5" font-size="10.8" text-anchor="middle" fill="#111" stroke="#111" stroke-width="0.32" font-weight="normal">FBS</text>
<text x="150.9" y="373.5" font-size="7.5" text-anchor="middle" fill="#1e1e1e" stroke="#1e1e1e" stroke-width="0.32" font-weight="normal">10%FBS</text>
<text x="150.9" y="382.9" font-size="7.5" text-anchor="middle" fill="#1e1e1e" stroke="#1e1e1e" stroke-width="0.32" font-weight="normal">medium</text>
<text x="193.3" y="372.2" font-size="7.6" text-anchor="middle" fill="#1e1e1e" stroke="#1e1e1e" stroke-width="0.32" font-weight="normal">Serum-free</text>
<text x="193.3" y="381.4" font-size="7.6" text-anchor="middle" fill="#1e1e1e" stroke="#1e1e1e" stroke-width="0.32" font-weight="normal">medium</text>
<polygon points="214.3,385.2 264.9,385.2 264.9,375.0" fill="url(#fbsgrad)"/>
<rect x="213.30" y="364.60" width="51.60" height="10.10" fill="#a3c8ec" stroke="#3c9a8e" stroke-width="0.9"/>
<text x="239.1" y="372.7" font-size="8.8" text-anchor="middle" fill="#111" stroke="#111" stroke-width="0.32" font-weight="normal">Collagen</text>
<text x="239.3" y="383.9" font-size="10.8" text-anchor="middle" fill="#111" stroke="#111" stroke-width="0.32" font-weight="normal">FBS</text>
<text x="283.0" y="375.0" font-size="7.5" text-anchor="middle" fill="#1e1e1e" stroke="#1e1e1e" stroke-width="0.32" font-weight="normal">10%FBS</text>
<text x="283.0" y="384.4" font-size="7.5" text-anchor="middle" fill="#1e1e1e" stroke="#1e1e1e" stroke-width="0.32" font-weight="normal">medium</text>
<text x="410.7" y="214.9" font-size="11.6" text-anchor="start" fill="#111" stroke="#111" stroke-width="0.32" font-weight="normal">U251</text>
<line x1="362.50" y1="241.80" x2="362.50" y2="329.10" stroke="#1e1e1e" stroke-width="0.9"/>
<line x1="362.50" y1="329.10" x2="484.80" y2="329.10" stroke="#1e1e1e" stroke-width="0.9"/>
<line x1="362.50" y1="329.10" x2="368.00" y2="329.10" stroke="#1e1e1e" stroke-width="0.9"/>
<text x="359.7" y="331.90000000000003" font-size="7.6" text-anchor="end" fill="#1e1e1e" stroke="#1e1e1e" stroke-width="0.32" font-weight="normal">0</text>
<line x1="362.50" y1="300.00" x2="368.00" y2="300.00" stroke="#1e1e1e" stroke-width="0.9"/>
<text x="359.7" y="302.8" font-size="7.6" text-anchor="end" fill="#1e1e1e" stroke="#1e1e1e" stroke-width="0.32" font-weight="normal">0.4</text>
<line x1="362.50" y1="270.90" x2="368.00" y2="270.90" stroke="#1e1e1e" stroke-width="0.9"/>
<text x="359.7" y="273.70000000000005" font-size="7.6" text-anchor="end" fill="#1e1e1e" stroke="#1e1e1e" stroke-width="0.32" font-weight="normal">0.8</text>
<line x1="362.50" y1="241.80" x2="368.00" y2="241.80" stroke="#1e1e1e" stroke-width="0.9"/>
<text x="359.7" y="244.60000000000002" font-size="7.6" text-anchor="end" fill="#1e1e1e" stroke="#1e1e1e" stroke-width="0.32" font-weight="normal">1.2</text>
<line x1="376.90" y1="256.35" x2="376.90" y2="247.62" stroke="#1e1e1e" stroke-width="0.8"/>
<line x1="374.50" y1="247.62" x2="379.30" y2="247.62" stroke="#1e1e1e" stroke-width="0.8"/>
<line x1="386.10" y1="256.35" x2="386.10" y2="246.89" stroke="#cf3d4e" stroke-width="0.8"/>
<line x1="383.70" y1="246.89" x2="388.50" y2="246.89" stroke="#cf3d4e" stroke-width="0.8"/>
<rect x="372.60" y="256.35" width="8.60" height="72.75" fill="white" stroke="#222" stroke-width="0.8"/>
<rect x="382.00" y="256.35" width="8.20" height="72.75" fill="#f7d9de" stroke="#cf3d4e" stroke-width="0.8"/>
<line x1="407.80" y1="278.90" x2="407.80" y2="272.36" stroke="#1e1e1e" stroke-width="0.8"/>
<line x1="405.40" y1="272.36" x2="410.20" y2="272.36" stroke="#1e1e1e" stroke-width="0.8"/>
<line x1="417.35" y1="289.81" x2="417.35" y2="286.91" stroke="#cf3d4e" stroke-width="0.8"/>
<line x1="414.95" y1="286.91" x2="419.75" y2="286.91" stroke="#cf3d4e" stroke-width="0.8"/>
<rect x="403.30" y="278.90" width="9.00" height="50.20" fill="white" stroke="#222" stroke-width="0.8"/>
<rect x="412.90" y="289.81" width="8.90" height="39.29" fill="#f7d9de" stroke="#cf3d4e" stroke-width="0.8"/>
<line x1="438.45" y1="280.36" x2="438.45" y2="271.63" stroke="#1e1e1e" stroke-width="0.8"/>
<line x1="436.05" y1="271.63" x2="440.85" y2="271.63" stroke="#1e1e1e" stroke-width="0.8"/>
<line x1="447.95" y1="298.55" x2="447.95" y2="294.91" stroke="#cf3d4e" stroke-width="0.8"/>
<line x1="445.55" y1="294.91" x2="450.35" y2="294.91" stroke="#cf3d4e" stroke-width="0.8"/>
<rect x="433.90" y="280.36" width="9.10" height="48.74" fill="white" stroke="#222" stroke-width="0.8"/>
<rect x="443.60" y="298.55" width="8.70" height="30.55" fill="#f7d9de" stroke="#cf3d4e" stroke-width="0.8"/>
<line x1="468.10" y1="288.36" x2="468.10" y2="283.27" stroke="#1e1e1e" stroke-width="0.8"/>
<line x1="465.70" y1="283.27" x2="470.50" y2="283.27" stroke="#1e1e1e" stroke-width="0.8"/>
<line x1="477.60" y1="302.18" x2="477.60" y2="299.27" stroke="#cf3d4e" stroke-width="0.8"/>
<line x1="475.20" y1="299.27" x2="480.00" y2="299.27" stroke="#cf3d4e" stroke-width="0.8"/>
<rect x="463.60" y="288.36" width="9.00" height="40.74" fill="white" stroke="#222" stroke-width="0.8"/>
<rect x="473.20" y="302.18" width="8.80" height="26.92" fill="#f7d9de" stroke="#cf3d4e" stroke-width="0.8"/>
<polyline points="407.80,270.86 407.80,268.20 417.35,268.20 417.35,285.41" fill="none" stroke="#333" stroke-width="0.75" stroke-linejoin="round"/>
<path d="M412.58,259.80 L412.58,264.00 M410.76,260.85 L414.39,262.95 M414.39,260.85 L410.76,262.95 " stroke="#1e1e1e" stroke-width="1.0" stroke-linecap="round" fill="none"/>
<polyline points="438.45,270.13 438.45,268.20 447.95,268.20 447.95,293.41" fill="none" stroke="#333" stroke-width="0.75" stroke-linejoin="round"/>
<path d="M440.23,259.80 L440.23,264.00 M438.41,260.85 L442.04,262.95 M442.04,260.85 L438.41,262.95 " stroke="#1e1e1e" stroke-width="1.0" stroke-linecap="round" fill="none"/>
<path d="M446.18,259.80 L446.18,264.00 M444.36,260.85 L447.99,262.95 M447.99,260.85 L444.36,262.95 " stroke="#1e1e1e" stroke-width="1.0" stroke-linecap="round" fill="none"/>
<polyline points="468.10,281.77 468.10,268.20 477.60,268.20 477.60,297.77" fill="none" stroke="#333" stroke-width="0.75" stroke-linejoin="round"/>
<path d="M469.88,259.80 L469.88,264.00 M468.06,260.85 L471.69,262.95 M471.69,260.85 L468.06,262.95 " stroke="#1e1e1e" stroke-width="1.0" stroke-linecap="round" fill="none"/>
<path d="M475.83,259.80 L475.83,264.00 M474.01,260.85 L477.64,262.95 M477.64,260.85 L474.01,262.95 " stroke="#1e1e1e" stroke-width="1.0" stroke-linecap="round" fill="none"/>
<text x="380.9" y="338.2" font-size="7.2" text-anchor="middle" fill="#1e1e1e" stroke="#1e1e1e" stroke-width="0.32" font-weight="normal">Vehicle</text>
<text x="411.7" y="338.2" font-size="7.6" text-anchor="middle" fill="#1e1e1e" stroke="#1e1e1e" stroke-width="0.32" font-weight="normal">5</text>
<text x="442.6" y="338.2" font-size="7.6" text-anchor="middle" fill="#1e1e1e" stroke="#1e1e1e" stroke-width="0.32" font-weight="normal">10</text>
<text x="472.3" y="338.2" font-size="7.6" text-anchor="middle" fill="#1e1e1e" stroke="#1e1e1e" stroke-width="0.32" font-weight="normal">25</text>
<line x1="401.00" y1="339.40" x2="484.80" y2="339.40" stroke="#1e1e1e" stroke-width="0.8"/>
<text x="447.5" y="350.0" font-size="8.8" text-anchor="middle" fill="#1e1e1e" stroke="#1e1e1e" stroke-width="0.32">Temozolomide (<tspan font-style="italic">&#x3bc;</tspan>M)</text>
<text x="345.6" y="284.0" font-size="8.8" text-anchor="middle" fill="#1e1e1e" stroke="#1e1e1e" stroke-width="0.32" font-weight="normal" transform="rotate(-90 345.6 284.0)">Relative cell survival rate</text>
<rect x="389.40" y="229.00" width="4.80" height="4.80" fill="white" stroke="#222" stroke-width="0.9"/>
<text x="397.6" y="234.20000000000002" font-size="7.85" text-anchor="start" fill="#1e1e1e" stroke="#1e1e1e" stroke-width="0.32" font-weight="normal">Naive</text>
<rect x="420.90" y="229.00" width="4.80" height="4.80" fill="#f7d9de" stroke="#cf3d4e" stroke-width="0.9"/>
<text x="429.0" y="234.20000000000002" font-size="7.85" text-anchor="start" fill="#c4283c" stroke="#c4283c" stroke-width="0.32"><tspan font-style="italic">NAT10</tspan> KO</text>
<text x="584.1" y="215.8" font-size="11.6" text-anchor="start" fill="#111" stroke="#111" stroke-width="0.32" font-weight="normal">A172</text>
<line x1="539.50" y1="243.58" x2="539.50" y2="330.10" stroke="#1e1e1e" stroke-width="0.9"/>
<line x1="539.50" y1="330.10" x2="669.00" y2="330.10" stroke="#1e1e1e" stroke-width="0.9"/>
<line x1="539.50" y1="330.10" x2="545.00" y2="330.10" stroke="#1e1e1e" stroke-width="0.9"/>
<text x="536.7" y="332.90000000000003" font-size="7.6" text-anchor="end" fill="#1e1e1e" stroke="#1e1e1e" stroke-width="0.32" font-weight="normal">0</text>
<line x1="539.50" y1="301.26" x2="545.00" y2="301.26" stroke="#1e1e1e" stroke-width="0.9"/>
<text x="536.7" y="304.06000000000006" font-size="7.6" text-anchor="end" fill="#1e1e1e" stroke="#1e1e1e" stroke-width="0.32" font-weight="normal">0.4</text>
<line x1="539.50" y1="272.42" x2="545.00" y2="272.42" stroke="#1e1e1e" stroke-width="0.9"/>
<text x="536.7" y="275.22" font-size="7.6" text-anchor="end" fill="#1e1e1e" stroke="#1e1e1e" stroke-width="0.32" font-weight="normal">0.8</text>
<line x1="539.50" y1="243.58" x2="545.00" y2="243.58" stroke="#1e1e1e" stroke-width="0.9"/>
<text x="536.7" y="246.38000000000005" font-size="7.6" text-anchor="end" fill="#1e1e1e" stroke="#1e1e1e" stroke-width="0.32" font-weight="normal">1.2</text>
<line x1="553.75" y1="258.00" x2="553.75" y2="251.29" stroke="#1e1e1e" stroke-width="0.8"/>
<line x1="551.35" y1="251.29" x2="556.15" y2="251.29" stroke="#1e1e1e" stroke-width="0.8"/>
<line x1="563.05" y1="258.00" x2="563.05" y2="254.40" stroke="#cf3d4e" stroke-width="0.8"/>
<line x1="560.65" y1="254.40" x2="565.45" y2="254.40" stroke="#cf3d4e" stroke-width="0.8"/>
<rect x="549.30" y="258.00" width="8.90" height="72.10" fill="white" stroke="#222" stroke-width="0.8"/>
<rect x="558.60" y="258.00" width="8.90" height="72.10" fill="#f7d9de" stroke="#cf3d4e" stroke-width="0.8"/>
<line x1="587.20" y1="253.39" x2="587.20" y2="251.58" stroke="#1e1e1e" stroke-width="0.8"/>
<line x1="584.80" y1="251.58" x2="589.60" y2="251.58" stroke="#1e1e1e" stroke-width="0.8"/>
<line x1="596.60" y1="264.71" x2="596.60" y2="256.41" stroke="#cf3d4e" stroke-width="0.8"/>
<line x1="594.20" y1="256.41" x2="599.00" y2="256.41" stroke="#cf3d4e" stroke-width="0.8"/>
<rect x="582.60" y="253.39" width="9.20" height="76.71" fill="white" stroke="#222" stroke-width="0.8"/>
<rect x="592.00" y="264.71" width="9.20" height="65.39" fill="#f7d9de" stroke="#cf3d4e" stroke-width="0.8"/>
<line x1="617.90" y1="253.39" x2="617.90" y2="248.63" stroke="#1e1e1e" stroke-width="0.8"/>
<line x1="615.50" y1="248.63" x2="620.30" y2="248.63" stroke="#1e1e1e" stroke-width="0.8"/>
<line x1="627.25" y1="268.31" x2="627.25" y2="261.61" stroke="#cf3d4e" stroke-width="0.8"/>
<line x1="624.85" y1="261.61" x2="629.65" y2="261.61" stroke="#cf3d4e" stroke-width="0.8"/>
<rect x="613.40" y="253.39" width="9.00" height="76.71" fill="white" stroke="#222" stroke-width="0.8"/>
<rect x="622.70" y="268.31" width="9.10" height="61.79" fill="#f7d9de" stroke="#cf3d4e" stroke-width="0.8"/>
<line x1="647.75" y1="262.54" x2="647.75" y2="257.57" stroke="#1e1e1e" stroke-width="0.8"/>
<line x1="645.35" y1="257.57" x2="650.15" y2="257.57" stroke="#1e1e1e" stroke-width="0.8"/>
<line x1="657.10" y1="271.70" x2="657.10" y2="265.21" stroke="#cf3d4e" stroke-width="0.8"/>
<line x1="654.70" y1="265.21" x2="659.50" y2="265.21" stroke="#cf3d4e" stroke-width="0.8"/>
<rect x="643.30" y="262.54" width="8.90" height="67.56" fill="white" stroke="#222" stroke-width="0.8"/>
<rect x="652.60" y="271.70" width="9.00" height="58.40" fill="#f7d9de" stroke="#cf3d4e" stroke-width="0.8"/>
<polyline points="587.20,250.08 587.20,247.50 596.60,247.50 596.60,254.91" fill="none" stroke="#333" stroke-width="0.75" stroke-linejoin="round"/>
<path d="M591.90,238.10 L591.90,242.30 M590.08,239.15 L593.72,241.25 M593.72,239.15 L590.08,241.25 " stroke="#1e1e1e" stroke-width="1.0" stroke-linecap="round" fill="none"/>
<polyline points="617.90,247.13 617.90,246.20 627.25,246.20 627.25,260.11" fill="none" stroke="#333" stroke-width="0.75" stroke-linejoin="round"/>
<path d="M619.60,236.90 L619.60,241.10 M617.78,237.95 L621.42,240.05 M621.42,237.95 L617.78,240.05 " stroke="#1e1e1e" stroke-width="1.0" stroke-linecap="round" fill="none"/>
<path d="M625.55,236.90 L625.55,241.10 M623.73,237.95 L627.37,240.05 M627.37,237.95 L623.73,240.05 " stroke="#1e1e1e" stroke-width="1.0" stroke-linecap="round" fill="none"/>
<text x="561.0" y="342.3" font-size="7.2" text-anchor="middle" fill="#1e1e1e" stroke="#1e1e1e" stroke-width="0.32" font-weight="normal">Vehicle</text>
<text x="591.5" y="342.3" font-size="7.6" text-anchor="middle" fill="#1e1e1e" stroke="#1e1e1e" stroke-width="0.32" font-weight="normal">5</text>
<text x="621.8" y="342.3" font-size="7.6" text-anchor="middle" fill="#1e1e1e" stroke="#1e1e1e" stroke-width="0.32" font-weight="normal">10</text>
<text x="651.7" y="342.3" font-size="7.6" text-anchor="middle" fill="#1e1e1e" stroke="#1e1e1e" stroke-width="0.32" font-weight="normal">25</text>
<line x1="581.70" y1="343.50" x2="665.00" y2="343.50" stroke="#1e1e1e" stroke-width="0.8"/>
<text x="628.0" y="354.0" font-size="8.8" text-anchor="middle" fill="#1e1e1e" stroke="#1e1e1e" stroke-width="0.32">Temozolomide (<tspan font-style="italic">&#x3bc;</tspan>M)</text>
<text x="523.7" y="287.8" font-size="8.8" text-anchor="middle" fill="#1e1e1e" stroke="#1e1e1e" stroke-width="0.32" font-weight="normal" transform="rotate(-90 523.7 287.8)">Relative cell survival rate</text>
<rect x="560.70" y="230.20" width="4.80" height="4.80" fill="white" stroke="#222" stroke-width="0.9"/>
<text x="568.8" y="235.4" font-size="7.85" text-anchor="start" fill="#1e1e1e" stroke="#1e1e1e" stroke-width="0.32" font-weight="normal">Naive</text>
<rect x="592.00" y="230.20" width="4.80" height="4.80" fill="#f7d9de" stroke="#cf3d4e" stroke-width="0.9"/>
<text x="600.3" y="235.4" font-size="7.85" text-anchor="start" fill="#c4283c" stroke="#c4283c" stroke-width="0.32"><tspan font-style="italic">NAT10</tspan> KO</text>
<text x="83.5" y="443.0" font-size="10" text-anchor="middle" fill="#2b5a8c" stroke="#2b5a8c" stroke-width="0.32" font-weight="normal">SOX2</text>
<line x1="50.10" y1="457.10" x2="50.10" y2="542.00" stroke="#1e1e1e" stroke-width="0.9"/>
<line x1="50.10" y1="542.00" x2="112.00" y2="542.00" stroke="#1e1e1e" stroke-width="0.9"/>
<line x1="50.10" y1="542.00" x2="53.30" y2="542.00" stroke="#1e1e1e" stroke-width="0.9"/>
<text x="46.5" y="544.8" font-size="7.6" text-anchor="end" fill="#1e1e1e" stroke="#1e1e1e" stroke-width="0.32" font-weight="normal">0</text>
<line x1="50.10" y1="513.70" x2="53.30" y2="513.70" stroke="#1e1e1e" stroke-width="0.9"/>
<text x="46.5" y="516.5" font-size="7.6" text-anchor="end" fill="#1e1e1e" stroke="#1e1e1e" stroke-width="0.32" font-weight="normal">0.5</text>
<line x1="50.10" y1="485.40" x2="53.30" y2="485.40" stroke="#1e1e1e" stroke-width="0.9"/>
<text x="46.5" y="488.2" font-size="7.6" text-anchor="end" fill="#1e1e1e" stroke="#1e1e1e" stroke-width="0.32" font-weight="normal">1.0</text>
<line x1="50.10" y1="457.10" x2="53.30" y2="457.10" stroke="#1e1e1e" stroke-width="0.9"/>
<text x="46.5" y="459.90000000000003" font-size="7.6" text-anchor="end" fill="#1e1e1e" stroke="#1e1e1e" stroke-width="0.32" font-weight="normal">1.5</text>
<line x1="69.00" y1="485.40" x2="69.00" y2="471.25" stroke="#1e1e1e" stroke-width="0.9"/>
<line x1="65.20" y1="471.25" x2="72.80" y2="471.25" stroke="#1e1e1e" stroke-width="0.9"/>
<rect x="61.40" y="485.40" width="15.20" height="56.60" fill="white" stroke="#222" stroke-width="0.9"/>
<rect x="89.30" y="516.53" width="15.40" height="25.47" fill="#f7d9de" stroke="#cf3d4e" stroke-width="0.9"/>
<line x1="97.00" y1="516.53" x2="97.00" y2="506.62" stroke="#cf3d4e" stroke-width="0.9"/>
<line x1="93.20" y1="506.62" x2="100.80" y2="506.62" stroke="#cf3d4e" stroke-width="0.9"/>
<circle cx="66.40" cy="475.78" r="2.15" fill="white" stroke="#222" stroke-width="0.9"/>
<circle cx="70.90" cy="476.34" r="2.15" fill="white" stroke="#222" stroke-width="0.9"/>
<circle cx="66.80" cy="479.74" r="2.15" fill="white" stroke="#222" stroke-width="0.9"/>
<circle cx="71.00" cy="480.87" r="2.15" fill="white" stroke="#222" stroke-width="0.9"/>
<circle cx="69.30" cy="488.23" r="2.15" fill="white" stroke="#222" stroke-width="0.9"/>
<circle cx="69.30" cy="514.83" r="2.15" fill="white" stroke="#222" stroke-width="0.9"/>
<circle cx="97.00" cy="501.81" r="2.15" fill="white" stroke="#cf3d4e" stroke-width="0.9"/>
<circle cx="97.00" cy="506.62" r="2.15" fill="white" stroke="#cf3d4e" stroke-width="0.9"/>
<circle cx="95.20" cy="517.66" r="2.15" fill="white" stroke="#cf3d4e" stroke-width="0.9"/>
<circle cx="98.50" cy="519.36" r="2.15" fill="white" stroke="#cf3d4e" stroke-width="0.9"/>
<circle cx="94.80" cy="526.72" r="2.15" fill="white" stroke="#cf3d4e" stroke-width="0.9"/>
<circle cx="98.80" cy="528.42" r="2.15" fill="white" stroke="#cf3d4e" stroke-width="0.9"/>
<polyline points="69.00,472.00 69.00,456.20 97.00,456.20 97.00,498.30" fill="none" stroke="#333" stroke-width="0.8" stroke-linejoin="round"/>
<path d="M80.03,448.70 L80.03,452.90 M78.21,449.75 L81.84,451.85 M81.84,449.75 L78.21,451.85 " stroke="#1e1e1e" stroke-width="1.0" stroke-linecap="round" fill="none"/>
<path d="M85.97,448.70 L85.97,452.90 M84.16,449.75 L87.79,451.85 M87.79,449.75 L84.16,451.85 " stroke="#1e1e1e" stroke-width="1.0" stroke-linecap="round" fill="none"/>
<text x="68.3" y="551.7" font-size="7.6" text-anchor="middle" fill="#1e1e1e" stroke="#1e1e1e" stroke-width="0.32" font-weight="normal">Naive</text>
<text x="79.6" y="551.7" font-size="7.5" text-anchor="start" fill="#c4283c" stroke="#c4283c" stroke-width="0.32"><tspan font-style="italic">NAT10</tspan> KO</text>
<text x="34.4" y="499.3" font-size="8.7" text-anchor="middle" fill="#1e1e1e" stroke="#1e1e1e" stroke-width="0.32" font-weight="normal" transform="rotate(-90 34.4 499.3)">Relative protein levels</text>
<text x="167.6" y="443.0" font-size="10" text-anchor="middle" fill="#2b5a8c" stroke="#2b5a8c" stroke-width="0.32" font-weight="normal">OCT4</text>
<line x1="136.00" y1="457.90" x2="136.00" y2="541.50" stroke="#1e1e1e" stroke-width="0.9"/>
<line x1="136.00" y1="541.50" x2="197.10" y2="541.50" stroke="#1e1e1e" stroke-width="0.9"/>
<line x1="136.00" y1="541.50" x2="139.20" y2="541.50" stroke="#1e1e1e" stroke-width="0.9"/>
<text x="132.4" y="544.3" font-size="7.6" text-anchor="end" fill="#1e1e1e" stroke="#1e1e1e" stroke-width="0.32" font-weight="normal">0</text>
<line x1="136.00" y1="520.60" x2="139.20" y2="520.60" stroke="#1e1e1e" stroke-width="0.9"/>
<text x="132.4" y="523.4" font-size="7.6" text-anchor="end" fill="#1e1e1e" stroke="#1e1e1e" stroke-width="0.32" font-weight="normal">0.5</text>
<line x1="136.00" y1="499.70" x2="139.20" y2="499.70" stroke="#1e1e1e" stroke-width="0.9"/>
<text x="132.4" y="502.5" font-size="7.6" text-anchor="end" fill="#1e1e1e" stroke="#1e1e1e" stroke-width="0.32" font-weight="normal">1.0</text>
<line x1="136.00" y1="478.80" x2="139.20" y2="478.80" stroke="#1e1e1e" stroke-width="0.9"/>
<text x="132.4" y="481.6" font-size="7.6" text-anchor="end" fill="#1e1e1e" stroke="#1e1e1e" stroke-width="0.32" font-weight="normal">1.5</text>
<line x1="136.00" y1="457.90" x2="139.20" y2="457.90" stroke="#1e1e1e" stroke-width="0.9"/>
<text x="132.4" y="460.7" font-size="7.6" text-anchor="end" fill="#1e1e1e" stroke="#1e1e1e" stroke-width="0.32" font-weight="normal">2.0</text>
<line x1="154.10" y1="499.70" x2="154.10" y2="479.64" stroke="#1e1e1e" stroke-width="0.9"/>
<line x1="150.30" y1="479.64" x2="157.90" y2="479.64" stroke="#1e1e1e" stroke-width="0.9"/>
<rect x="146.40" y="499.70" width="15.40" height="41.80" fill="white" stroke="#222" stroke-width="0.9"/>
<rect x="174.00" y="526.87" width="16.20" height="14.63" fill="#f7d9de" stroke="#cf3d4e" stroke-width="0.9"/>
<line x1="182.10" y1="526.87" x2="182.10" y2="524.78" stroke="#cf3d4e" stroke-width="0.9"/>
<line x1="178.30" y1="524.78" x2="185.90" y2="524.78" stroke="#cf3d4e" stroke-width="0.9"/>
<circle cx="154.10" cy="474.20" r="2.15" fill="white" stroke="#222" stroke-width="0.9"/>
<circle cx="154.10" cy="477.55" r="2.15" fill="white" stroke="#222" stroke-width="0.9"/>
<circle cx="154.10" cy="490.09" r="2.15" fill="white" stroke="#222" stroke-width="0.9"/>
<circle cx="154.10" cy="506.39" r="2.15" fill="white" stroke="#222" stroke-width="0.9"/>
<circle cx="154.10" cy="520.18" r="2.15" fill="white" stroke="#222" stroke-width="0.9"/>
<circle cx="154.10" cy="528.54" r="2.15" fill="white" stroke="#222" stroke-width="0.9"/>
<circle cx="177.40" cy="525.49" r="2.15" fill="white" stroke="#cf3d4e" stroke-width="0.9"/>
<circle cx="180.90" cy="524.49" r="2.15" fill="white" stroke="#cf3d4e" stroke-width="0.9"/>
<circle cx="184.40" cy="523.82" r="2.15" fill="white" stroke="#cf3d4e" stroke-width="0.9"/>
<circle cx="187.90" cy="524.99" r="2.15" fill="white" stroke="#cf3d4e" stroke-width="0.9"/>
<circle cx="179.30" cy="528.50" r="2.15" fill="white" stroke="#cf3d4e" stroke-width="0.9"/>
<circle cx="183.90" cy="533.14" r="2.15" fill="white" stroke="#cf3d4e" stroke-width="0.9"/>
<polyline points="154.10,469.20 154.10,455.20 182.10,455.20 182.10,522.70" fill="none" stroke="#333" stroke-width="0.8" stroke-linejoin="round"/>
<path d="M168.10,449.20 L168.10,453.40 M166.28,450.25 L169.92,452.35 M169.92,450.25 L166.28,452.35 " stroke="#1e1e1e" stroke-width="1.0" stroke-linecap="round" fill="none"/>
<text x="153.7" y="551.7" font-size="7.6" text-anchor="middle" fill="#1e1e1e" stroke="#1e1e1e" stroke-width="0.32" font-weight="normal">Naive</text>
<text x="165.3" y="551.7" font-size="7.5" text-anchor="start" fill="#c4283c" stroke="#c4283c" stroke-width="0.32"><tspan font-style="italic">NAT10</tspan> KO</text>
<text x="252.4" y="443.0" font-size="10" text-anchor="middle" fill="#2b5a8c" stroke="#2b5a8c" stroke-width="0.32" font-weight="normal">KLF4</text>
<line x1="221.60" y1="458.05" x2="221.60" y2="541.30" stroke="#1e1e1e" stroke-width="0.9"/>
<line x1="221.60" y1="541.30" x2="283.70" y2="541.30" stroke="#1e1e1e" stroke-width="0.9"/>
<line x1="221.60" y1="541.30" x2="224.80" y2="541.30" stroke="#1e1e1e" stroke-width="0.9"/>
<text x="218.0" y="544.0999999999999" font-size="7.6" text-anchor="end" fill="#1e1e1e" stroke="#1e1e1e" stroke-width="0.32" font-weight="normal">0</text>
<line x1="221.60" y1="513.55" x2="224.80" y2="513.55" stroke="#1e1e1e" stroke-width="0.9"/>
<text x="218.0" y="516.3499999999999" font-size="7.6" text-anchor="end" fill="#1e1e1e" stroke="#1e1e1e" stroke-width="0.32" font-weight="normal">0.5</text>
<line x1="221.60" y1="485.80" x2="224.80" y2="485.80" stroke="#1e1e1e" stroke-width="0.9"/>
<text x="218.0" y="488.59999999999997" font-size="7.6" text-anchor="end" fill="#1e1e1e" stroke="#1e1e1e" stroke-width="0.32" font-weight="normal">1.0</text>
<line x1="221.60" y1="458.05" x2="224.80" y2="458.05" stroke="#1e1e1e" stroke-width="0.9"/>
<text x="218.0" y="460.84999999999997" font-size="7.6" text-anchor="end" fill="#1e1e1e" stroke="#1e1e1e" stroke-width="0.32" font-weight="normal">1.5</text>
<line x1="240.15" y1="485.80" x2="240.15" y2="471.37" stroke="#1e1e1e" stroke-width="0.9"/>
<line x1="236.35" y1="471.37" x2="243.95" y2="471.37" stroke="#1e1e1e" stroke-width="0.9"/>
<rect x="232.60" y="485.80" width="15.10" height="55.50" fill="white" stroke="#222" stroke-width="0.9"/>
<rect x="260.00" y="522.21" width="15.60" height="19.09" fill="#f7d9de" stroke="#cf3d4e" stroke-width="0.9"/>
<line x1="267.80" y1="522.21" x2="267.80" y2="514.44" stroke="#cf3d4e" stroke-width="0.9"/>
<line x1="264.00" y1="514.44" x2="271.60" y2="514.44" stroke="#cf3d4e" stroke-width="0.9"/>
<circle cx="240.15" cy="459.71" r="2.15" fill="white" stroke="#222" stroke-width="0.9"/>
<circle cx="237.95" cy="485.80" r="2.15" fill="white" stroke="#222" stroke-width="0.9"/>
<circle cx="243.05" cy="486.35" r="2.15" fill="white" stroke="#222" stroke-width="0.9"/>
<circle cx="239.85" cy="495.79" r="2.15" fill="white" stroke="#222" stroke-width="0.9"/>
<circle cx="240.15" cy="501.34" r="2.15" fill="white" stroke="#222" stroke-width="0.9"/>
<circle cx="267.80" cy="510.61" r="2.15" fill="white" stroke="#cf3d4e" stroke-width="0.9"/>
<circle cx="265.40" cy="517.99" r="2.15" fill="white" stroke="#cf3d4e" stroke-width="0.9"/>
<circle cx="270.00" cy="520.21" r="2.15" fill="white" stroke="#cf3d4e" stroke-width="0.9"/>
<circle cx="267.80" cy="523.82" r="2.15" fill="white" stroke="#cf3d4e" stroke-width="0.9"/>
<circle cx="267.80" cy="532.42" r="2.15" fill="white" stroke="#cf3d4e" stroke-width="0.9"/>
<polyline points="240.15,457.30 240.15,455.70 267.80,455.70 267.80,507.60" fill="none" stroke="#333" stroke-width="0.8" stroke-linejoin="round"/>
<path d="M250.72,449.20 L250.72,453.40 M248.91,450.25 L252.54,452.35 M252.54,450.25 L248.91,452.35 " stroke="#1e1e1e" stroke-width="1.0" stroke-linecap="round" fill="none"/>
<path d="M256.68,449.20 L256.68,453.40 M254.86,450.25 L258.49,452.35 M258.49,450.25 L254.86,452.35 " stroke="#1e1e1e" stroke-width="1.0" stroke-linecap="round" fill="none"/>
<text x="240.0" y="551.7" font-size="7.6" text-anchor="middle" fill="#1e1e1e" stroke="#1e1e1e" stroke-width="0.32" font-weight="normal">Naive</text>
<text x="252.3" y="551.7" font-size="7.5" text-anchor="start" fill="#c4283c" stroke="#c4283c" stroke-width="0.32"><tspan font-style="italic">NAT10</tspan> KO</text>
<text x="397.2" y="443.0" font-size="10" text-anchor="middle" fill="#2b5a8c" stroke="#2b5a8c" stroke-width="0.32" font-weight="normal">N-CADHERIN</text>
<line x1="365.30" y1="454.30" x2="365.30" y2="541.30" stroke="#1e1e1e" stroke-width="0.9"/>
<line x1="365.30" y1="541.30" x2="426.50" y2="541.30" stroke="#1e1e1e" stroke-width="0.9"/>
<line x1="365.30" y1="541.30" x2="368.50" y2="541.30" stroke="#1e1e1e" stroke-width="0.9"/>
<text x="361.7" y="544.0999999999999" font-size="7.6" text-anchor="end" fill="#1e1e1e" stroke="#1e1e1e" stroke-width="0.32" font-weight="normal">0</text>
<line x1="365.30" y1="512.30" x2="368.50" y2="512.30" stroke="#1e1e1e" stroke-width="0.9"/>
<text x="361.7" y="515.0999999999999" font-size="7.6" text-anchor="end" fill="#1e1e1e" stroke="#1e1e1e" stroke-width="0.32" font-weight="normal">0.4</text>
<line x1="365.30" y1="483.30" x2="368.50" y2="483.30" stroke="#1e1e1e" stroke-width="0.9"/>
<text x="361.7" y="486.09999999999997" font-size="7.6" text-anchor="end" fill="#1e1e1e" stroke="#1e1e1e" stroke-width="0.32" font-weight="normal">0.8</text>
<line x1="365.30" y1="454.30" x2="368.50" y2="454.30" stroke="#1e1e1e" stroke-width="0.9"/>
<text x="361.7" y="457.09999999999997" font-size="7.6" text-anchor="end" fill="#1e1e1e" stroke="#1e1e1e" stroke-width="0.32" font-weight="normal">1.2</text>
<line x1="385.00" y1="470.97" x2="385.00" y2="468.80" stroke="#1e1e1e" stroke-width="0.9"/>
<line x1="381.20" y1="468.80" x2="388.80" y2="468.80" stroke="#1e1e1e" stroke-width="0.9"/>
<rect x="377.40" y="470.97" width="15.20" height="70.33" fill="white" stroke="#222" stroke-width="0.9"/>
<rect x="402.20" y="479.67" width="15.00" height="61.62" fill="#f7d9de" stroke="#cf3d4e" stroke-width="0.9"/>
<line x1="409.70" y1="479.67" x2="409.70" y2="476.77" stroke="#cf3d4e" stroke-width="0.9"/>
<line x1="405.90" y1="476.77" x2="413.50" y2="476.77" stroke="#cf3d4e" stroke-width="0.9"/>
<circle cx="381.00" cy="469.09" r="2.15" fill="white" stroke="#222" stroke-width="0.9"/>
<circle cx="385.00" cy="468.80" r="2.15" fill="white" stroke="#222" stroke-width="0.9"/>
<circle cx="389.00" cy="469.09" r="2.15" fill="white" stroke="#222" stroke-width="0.9"/>
<circle cx="381.60" cy="474.96" r="2.15" fill="white" stroke="#222" stroke-width="0.9"/>
<circle cx="385.60" cy="475.32" r="2.15" fill="white" stroke="#222" stroke-width="0.9"/>
<circle cx="389.20" cy="474.96" r="2.15" fill="white" stroke="#222" stroke-width="0.9"/>
<circle cx="409.10" cy="474.16" r="2.15" fill="white" stroke="#cf3d4e" stroke-width="0.9"/>
<circle cx="406.70" cy="476.77" r="2.15" fill="white" stroke="#cf3d4e" stroke-width="0.9"/>
<circle cx="412.70" cy="477.50" r="2.15" fill="white" stroke="#cf3d4e" stroke-width="0.9"/>
<circle cx="407.70" cy="482.57" r="2.15" fill="white" stroke="#cf3d4e" stroke-width="0.9"/>
<circle cx="411.50" cy="483.30" r="2.15" fill="white" stroke="#cf3d4e" stroke-width="0.9"/>
<circle cx="409.10" cy="486.42" r="2.15" fill="white" stroke="#cf3d4e" stroke-width="0.9"/>
<polyline points="385.00,464.50 385.00,459.40 409.70,459.40 409.70,468.00" fill="none" stroke="#333" stroke-width="0.8" stroke-linejoin="round"/>
<path d="M393.72,453.30 L393.72,457.50 M391.91,454.35 L395.54,456.45 M395.54,454.35 L391.91,456.45 " stroke="#1e1e1e" stroke-width="1.0" stroke-linecap="round" fill="none"/>
<path d="M399.68,453.30 L399.68,457.50 M397.86,454.35 L401.49,456.45 M401.49,454.35 L397.86,456.45 " stroke="#1e1e1e" stroke-width="1.0" stroke-linecap="round" fill="none"/>
<text x="383.8" y="551.7" font-size="7.6" text-anchor="middle" fill="#1e1e1e" stroke="#1e1e1e" stroke-width="0.32" font-weight="normal">Naive</text>
<text x="397.0" y="551.7" font-size="7.5" text-anchor="start" fill="#c4283c" stroke="#c4283c" stroke-width="0.32"><tspan font-style="italic">NAT10</tspan> KO</text>
<text x="349.5" y="495.9" font-size="8.7" text-anchor="middle" fill="#1e1e1e" stroke="#1e1e1e" stroke-width="0.32" font-weight="normal" transform="rotate(-90 349.5 495.9)">Relative protein levels</text>
<text x="484.0" y="443.0" font-size="10" text-anchor="middle" fill="#2b5a8c" stroke="#2b5a8c" stroke-width="0.32" font-weight="normal">VIMENTIN</text>
<line x1="453.50" y1="453.15" x2="453.50" y2="541.50" stroke="#1e1e1e" stroke-width="0.9"/>
<line x1="453.50" y1="541.50" x2="514.20" y2="541.50" stroke="#1e1e1e" stroke-width="0.9"/>
<line x1="453.50" y1="541.50" x2="456.70" y2="541.50" stroke="#1e1e1e" stroke-width="0.9"/>
<text x="449.9" y="544.3" font-size="7.6" text-anchor="end" fill="#1e1e1e" stroke="#1e1e1e" stroke-width="0.32" font-weight="normal">0</text>
<line x1="453.50" y1="512.05" x2="456.70" y2="512.05" stroke="#1e1e1e" stroke-width="0.9"/>
<text x="449.9" y="514.8499999999999" font-size="7.6" text-anchor="end" fill="#1e1e1e" stroke="#1e1e1e" stroke-width="0.32" font-weight="normal">0.5</text>
<line x1="453.50" y1="482.60" x2="456.70" y2="482.60" stroke="#1e1e1e" stroke-width="0.9"/>
<text x="449.9" y="485.40000000000003" font-size="7.6" text-anchor="end" fill="#1e1e1e" stroke="#1e1e1e" stroke-width="0.32" font-weight="normal">1.0</text>
<line x1="453.50" y1="453.15" x2="456.70" y2="453.15" stroke="#1e1e1e" stroke-width="0.9"/>
<text x="449.9" y="455.95" font-size="7.6" text-anchor="end" fill="#1e1e1e" stroke="#1e1e1e" stroke-width="0.32" font-weight="normal">1.5</text>
<line x1="472.10" y1="482.60" x2="472.10" y2="472.70" stroke="#1e1e1e" stroke-width="0.9"/>
<line x1="468.30" y1="472.70" x2="475.90" y2="472.70" stroke="#1e1e1e" stroke-width="0.9"/>
<rect x="464.60" y="482.60" width="15.00" height="58.90" fill="white" stroke="#222" stroke-width="0.9"/>
<rect x="490.40" y="507.34" width="15.30" height="34.16" fill="#f7d9de" stroke="#cf3d4e" stroke-width="0.9"/>
<line x1="498.05" y1="507.34" x2="498.05" y2="504.39" stroke="#cf3d4e" stroke-width="0.9"/>
<line x1="494.25" y1="504.39" x2="501.85" y2="504.39" stroke="#cf3d4e" stroke-width="0.9"/>
<circle cx="472.40" cy="468.70" r="2.15" fill="white" stroke="#222" stroke-width="0.9"/>
<circle cx="469.40" cy="474.30" r="2.15" fill="white" stroke="#222" stroke-width="0.9"/>
<circle cx="474.00" cy="479.01" r="2.15" fill="white" stroke="#222" stroke-width="0.9"/>
<circle cx="470.10" cy="487.31" r="2.15" fill="white" stroke="#222" stroke-width="0.9"/>
<circle cx="474.00" cy="491.32" r="2.15" fill="white" stroke="#222" stroke-width="0.9"/>
<circle cx="472.40" cy="494.79" r="2.15" fill="white" stroke="#222" stroke-width="0.9"/>
<circle cx="496.05" cy="504.10" r="2.15" fill="white" stroke="#cf3d4e" stroke-width="0.9"/>
<circle cx="500.75" cy="502.92" r="2.15" fill="white" stroke="#cf3d4e" stroke-width="0.9"/>
<circle cx="498.85" cy="506.93" r="2.15" fill="white" stroke="#cf3d4e" stroke-width="0.9"/>
<circle cx="494.95" cy="506.75" r="2.15" fill="white" stroke="#cf3d4e" stroke-width="0.9"/>
<circle cx="502.55" cy="506.40" r="2.15" fill="white" stroke="#cf3d4e" stroke-width="0.9"/>
<circle cx="499.55" cy="510.58" r="2.15" fill="white" stroke="#cf3d4e" stroke-width="0.9"/>
<polyline points="472.10,464.20 472.10,459.50 498.05,459.50 498.05,498.20" fill="none" stroke="#333" stroke-width="0.8" stroke-linejoin="round"/>
<path d="M481.22,453.30 L481.22,457.50 M479.41,454.35 L483.04,456.45 M483.04,454.35 L479.41,456.45 " stroke="#1e1e1e" stroke-width="1.0" stroke-linecap="round" fill="none"/>
<path d="M487.18,453.30 L487.18,457.50 M485.36,454.35 L488.99,456.45 M488.99,454.35 L485.36,456.45 " stroke="#1e1e1e" stroke-width="1.0" stroke-linecap="round" fill="none"/>
<text x="471.3" y="551.7" font-size="7.6" text-anchor="middle" fill="#1e1e1e" stroke="#1e1e1e" stroke-width="0.32" font-weight="normal">Naive</text>
<text x="484.2" y="551.7" font-size="7.5" text-anchor="start" fill="#c4283c" stroke="#c4283c" stroke-width="0.32"><tspan font-style="italic">NAT10</tspan> KO</text>
</svg>
</body></html>
